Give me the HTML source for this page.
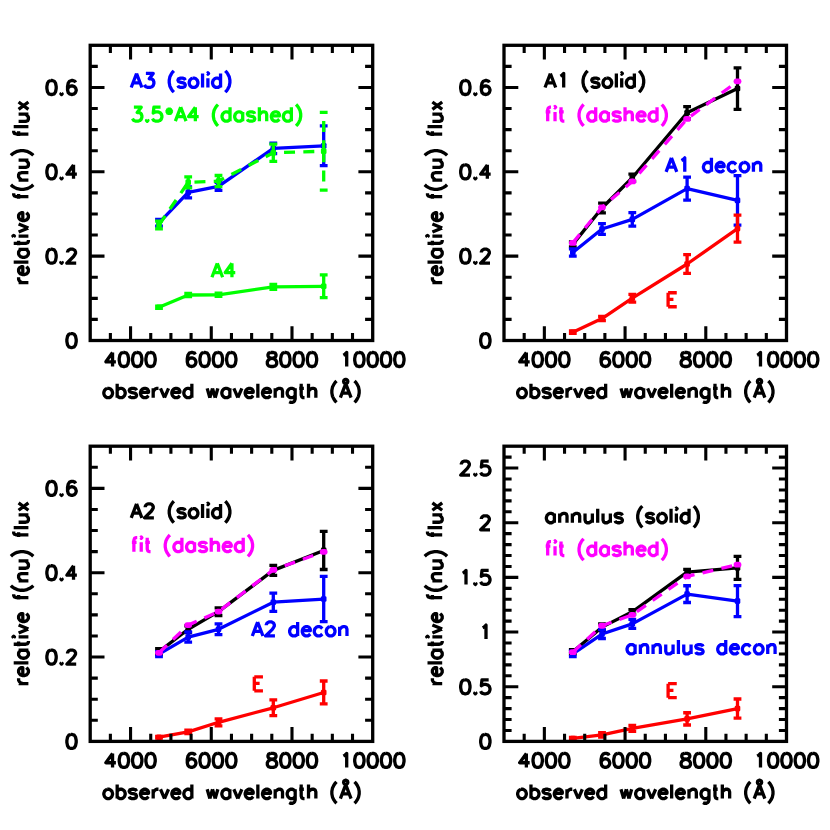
<!DOCTYPE html>
<html><head><meta charset="utf-8"><title>relative f(nu) flux vs observed wavelength</title>
<style>html,body{margin:0;padding:0;background:#fff;font-family:"Liberation Sans",sans-serif}svg{display:block}</style>
</head><body>
<svg width="830" height="830" viewBox="0 0 830 830">
<desc>Four panels of relative f(nu) flux versus observed wavelength (Å), 3000-10000. Panel 1: A3 (solid), 3.5*A4 (dashed), A4. Panel 2: A1 (solid), fit (dashed), A1 decon, E. Panel 3: A2 (solid), fit (dashed), A2 decon, E. Panel 4: annulus (solid), fit (dashed), annulus decon, E.</desc>
<rect width="830" height="830" fill="#fff"/>
<g stroke="#0000ff" stroke-width="3.3" fill="none" stroke-linecap="butt" stroke-linejoin="round"><path d="M159 222.84 L188.2 192.48 L218.5 186.28 L273.3 148.41 L323.7 145.79"/><path d="M159 222.84 V219.47 M159 222.84 V226.22"/><path d="M155.1 219.47H162.9 M155.1 226.22H162.9"/><path d="M188.2 192.48 V187 M188.2 192.48 V197.96"/><path d="M184.3 187H192.1 M184.3 197.96H192.1"/><path d="M218.5 186.28 V182.27 M218.5 186.28 V190.29"/><path d="M214.6 182.27H222.4 M214.6 190.29H222.4"/><path d="M273.3 148.41 V143.14 M273.3 148.41 V153.68"/><path d="M269.4 143.14H277.2 M269.4 153.68H277.2"/><path d="M323.7 145.79 V125.97 M323.7 145.79 V165.62"/><path d="M319.8 125.97H327.6 M319.8 165.62H327.6"/><rect x="156.2" y="220.04" width="5.6" height="5.6" rx="1.3" fill="#0000ff" stroke="none"/><rect x="185.4" y="189.68" width="5.6" height="5.6" rx="1.3" fill="#0000ff" stroke="none"/><rect x="215.7" y="183.48" width="5.6" height="5.6" rx="1.3" fill="#0000ff" stroke="none"/><rect x="270.5" y="145.61" width="5.6" height="5.6" rx="1.3" fill="#0000ff" stroke="none"/><rect x="320.9" y="142.99" width="5.6" height="5.6" rx="1.3" fill="#0000ff" stroke="none"/></g>
<g stroke="#00ff00" stroke-width="3.3" fill="none" stroke-linecap="butt" stroke-linejoin="round"><path d="M159 224.95 L188.2 182.36 L218.5 181.09 L273.3 152.75 L323.7 151.23" stroke-dasharray="11 8.3"/><path d="M159 224.95 V221.03 M159 224.95 V228.87" stroke-dasharray="11 8.3"/><path d="M155.1 221.03H162.9 M155.1 228.87H162.9"/><path d="M188.2 182.36 V176.87 M188.2 182.36 V187.84" stroke-dasharray="11 8.3"/><path d="M184.3 176.87H192.1 M184.3 187.84H192.1"/><path d="M218.5 181.09 V175.48 M218.5 181.09 V186.7" stroke-dasharray="11 8.3"/><path d="M214.6 175.48H222.4 M214.6 186.7H222.4"/><path d="M273.3 152.75 V144.11 M273.3 152.75 V161.4" stroke-dasharray="11 8.3"/><path d="M269.4 144.11H277.2 M269.4 161.4H277.2"/><path d="M323.7 151.23 V112.35 M323.7 151.23 V190.12" stroke-dasharray="11 8.3"/><path d="M319.8 112.35H327.6 M319.8 190.12H327.6"/><rect x="156.2" y="222.15" width="5.6" height="5.6" rx="1.3" fill="#00ff00" stroke="none"/><rect x="185.4" y="179.56" width="5.6" height="5.6" rx="1.3" fill="#00ff00" stroke="none"/><rect x="215.7" y="178.29" width="5.6" height="5.6" rx="1.3" fill="#00ff00" stroke="none"/><rect x="270.5" y="149.95" width="5.6" height="5.6" rx="1.3" fill="#00ff00" stroke="none"/><rect x="320.9" y="148.43" width="5.6" height="5.6" rx="1.3" fill="#00ff00" stroke="none"/></g>
<g stroke="#00ff00" stroke-width="3.3" fill="none" stroke-linecap="butt" stroke-linejoin="round"><path d="M159 307.31 L188.2 295 L218.5 294.79 L273.3 286.86 L323.7 286.31"/><path d="M159 307.31 V306.21 M159 307.31 V308.41"/><path d="M155.1 306.21H162.9 M155.1 308.41H162.9"/><path d="M188.2 295 V293.44 M188.2 295 V296.56"/><path d="M184.3 293.44H192.1 M184.3 296.56H192.1"/><path d="M218.5 294.79 V293.18 M218.5 294.79 V296.39"/><path d="M214.6 293.18H222.4 M214.6 296.39H222.4"/><path d="M273.3 286.86 V284.29 M273.3 286.86 V289.43"/><path d="M269.4 284.29H277.2 M269.4 289.43H277.2"/><path d="M323.7 286.31 V274.92 M323.7 286.31 V297.7"/><path d="M319.8 274.92H327.6 M319.8 297.7H327.6"/><rect x="156.2" y="304.51" width="5.6" height="5.6" rx="1.3" fill="#00ff00" stroke="none"/><rect x="185.4" y="292.2" width="5.6" height="5.6" rx="1.3" fill="#00ff00" stroke="none"/><rect x="215.7" y="291.99" width="5.6" height="5.6" rx="1.3" fill="#00ff00" stroke="none"/><rect x="270.5" y="284.06" width="5.6" height="5.6" rx="1.3" fill="#00ff00" stroke="none"/><rect x="320.9" y="283.51" width="5.6" height="5.6" rx="1.3" fill="#00ff00" stroke="none"/></g>
<path d="M110.38 340.5v-7.6 M110.38 45.3v7.6 M130.56 340.5v-14.3 M130.56 45.3v14.3 M150.74 340.5v-7.6 M150.74 45.3v7.6 M170.91 340.5v-7.6 M170.91 45.3v7.6 M191.09 340.5v-7.6 M191.09 45.3v7.6 M211.27 340.5v-14.3 M211.27 45.3v14.3 M231.45 340.5v-7.6 M231.45 45.3v7.6 M251.63 340.5v-7.6 M251.63 45.3v7.6 M271.81 340.5v-7.6 M271.81 45.3v7.6 M291.99 340.5v-14.3 M291.99 45.3v14.3 M312.16 340.5v-7.6 M312.16 45.3v7.6 M332.34 340.5v-7.6 M332.34 45.3v7.6 M352.52 340.5v-7.6 M352.52 45.3v7.6 M90.2 319.41h7.6 M372.7 319.41h-7.6 M90.2 298.33h7.6 M372.7 298.33h-7.6 M90.2 277.24h7.6 M372.7 277.24h-7.6 M90.2 256.16h14.3 M372.7 256.16h-14.3 M90.2 235.07h7.6 M372.7 235.07h-7.6 M90.2 213.99h7.6 M372.7 213.99h-7.6 M90.2 192.9h7.6 M372.7 192.9h-7.6 M90.2 171.81h14.3 M372.7 171.81h-14.3 M90.2 150.73h7.6 M372.7 150.73h-7.6 M90.2 129.64h7.6 M372.7 129.64h-7.6 M90.2 108.56h7.6 M372.7 108.56h-7.6 M90.2 87.47h14.3 M372.7 87.47h-14.3 M90.2 66.39h7.6 M372.7 66.39h-7.6" stroke="#000" stroke-width="3.1" fill="none"/>
<rect x="90.2" y="45.3" width="282.5" height="295.2" fill="none" stroke="#000" stroke-width="3.3"/>
<g fill="none" stroke-width="3.3" stroke-linecap="butt" stroke-linejoin="round"><path transform="translate(130.56 366.5)" d="M-18 -14 L-24.67 -4.67 L-14.67 -4.67 M-18 -14 L-18 0 M-7.33 -14 L-9.33 -13.33 L-10.67 -11.33 L-11.33 -8 L-11.33 -6 L-10.67 -2.67 L-9.33 -0.67 L-7.33 0 L-6 0 L-4 -0.67 L-2.67 -2.67 L-2 -6 L-2 -8 L-2.67 -11.33 L-4 -13.33 L-6 -14 L-7.33 -14 M6 -14 L4 -13.33 L2.67 -11.33 L2 -8 L2 -6 L2.67 -2.67 L4 -0.67 L6 0 L7.33 0 L9.33 -0.67 L10.67 -2.67 L11.33 -6 L11.33 -8 L10.67 -11.33 L9.33 -13.33 L7.33 -14 L6 -14 M19.33 -14 L17.33 -13.33 L16 -11.33 L15.33 -8 L15.33 -6 L16 -2.67 L17.33 -0.67 L19.33 0 L20.67 0 L22.67 -0.67 L24 -2.67 L24.67 -6 L24.67 -8 L24 -11.33 L22.67 -13.33 L20.67 -14 L19.33 -14" stroke="#000"/><path transform="translate(211.27 366.5)" d="M-16 -12 L-16.67 -13.33 L-18.67 -14 L-20 -14 L-22 -13.33 L-23.33 -11.33 L-24 -8 L-24 -4.67 L-23.33 -2 L-22 -0.67 L-20 0 L-19.33 0 L-17.33 -0.67 L-16 -2 L-15.33 -4 L-15.33 -4.67 L-16 -6.67 L-17.33 -8 L-19.33 -8.67 L-20 -8.67 L-22 -8 L-23.33 -6.67 L-24 -4.67 M-7.33 -14 L-9.33 -13.33 L-10.67 -11.33 L-11.33 -8 L-11.33 -6 L-10.67 -2.67 L-9.33 -0.67 L-7.33 0 L-6 0 L-4 -0.67 L-2.67 -2.67 L-2 -6 L-2 -8 L-2.67 -11.33 L-4 -13.33 L-6 -14 L-7.33 -14 M6 -14 L4 -13.33 L2.67 -11.33 L2 -8 L2 -6 L2.67 -2.67 L4 -0.67 L6 0 L7.33 0 L9.33 -0.67 L10.67 -2.67 L11.33 -6 L11.33 -8 L10.67 -11.33 L9.33 -13.33 L7.33 -14 L6 -14 M19.33 -14 L17.33 -13.33 L16 -11.33 L15.33 -8 L15.33 -6 L16 -2.67 L17.33 -0.67 L19.33 0 L20.67 0 L22.67 -0.67 L24 -2.67 L24.67 -6 L24.67 -8 L24 -11.33 L22.67 -13.33 L20.67 -14 L19.33 -14" stroke="#000"/><path transform="translate(291.99 366.5)" d="M-21.33 -14 L-23.33 -13.33 L-24 -12 L-24 -10.67 L-23.33 -9.33 L-22 -8.67 L-19.33 -8 L-17.33 -7.33 L-16 -6 L-15.33 -4.67 L-15.33 -2.67 L-16 -1.33 L-16.67 -0.67 L-18.67 0 L-21.33 0 L-23.33 -0.67 L-24 -1.33 L-24.67 -2.67 L-24.67 -4.67 L-24 -6 L-22.67 -7.33 L-20.67 -8 L-18 -8.67 L-16.67 -9.33 L-16 -10.67 L-16 -12 L-16.67 -13.33 L-18.67 -14 L-21.33 -14 M-7.33 -14 L-9.33 -13.33 L-10.67 -11.33 L-11.33 -8 L-11.33 -6 L-10.67 -2.67 L-9.33 -0.67 L-7.33 0 L-6 0 L-4 -0.67 L-2.67 -2.67 L-2 -6 L-2 -8 L-2.67 -11.33 L-4 -13.33 L-6 -14 L-7.33 -14 M6 -14 L4 -13.33 L2.67 -11.33 L2 -8 L2 -6 L2.67 -2.67 L4 -0.67 L6 0 L7.33 0 L9.33 -0.67 L10.67 -2.67 L11.33 -6 L11.33 -8 L10.67 -11.33 L9.33 -13.33 L7.33 -14 L6 -14 M19.33 -14 L17.33 -13.33 L16 -11.33 L15.33 -8 L15.33 -6 L16 -2.67 L17.33 -0.67 L19.33 0 L20.67 0 L22.67 -0.67 L24 -2.67 L24.67 -6 L24.67 -8 L24 -11.33 L22.67 -13.33 L20.67 -14 L19.33 -14" stroke="#000"/><path transform="translate(372.7 366.5)" d="M-29.33 -11.33 L-28 -12 L-26 -14 L-26 0 M-14 -14 L-16 -13.33 L-17.33 -11.33 L-18 -8 L-18 -6 L-17.33 -2.67 L-16 -0.67 L-14 0 L-12.67 0 L-10.67 -0.67 L-9.33 -2.67 L-8.67 -6 L-8.67 -8 L-9.33 -11.33 L-10.67 -13.33 L-12.67 -14 L-14 -14 M-0.67 -14 L-2.67 -13.33 L-4 -11.33 L-4.67 -8 L-4.67 -6 L-4 -2.67 L-2.67 -0.67 L-0.67 0 L0.67 0 L2.67 -0.67 L4 -2.67 L4.67 -6 L4.67 -8 L4 -11.33 L2.67 -13.33 L0.67 -14 L-0.67 -14 M12.67 -14 L10.67 -13.33 L9.33 -11.33 L8.67 -8 L8.67 -6 L9.33 -2.67 L10.67 -0.67 L12.67 0 L14 0 L16 -0.67 L17.33 -2.67 L18 -6 L18 -8 L17.33 -11.33 L16 -13.33 L14 -14 L12.67 -14 M26 -14 L24 -13.33 L22.67 -11.33 L22 -8 L22 -6 L22.67 -2.67 L24 -0.67 L26 0 L27.33 0 L29.33 -0.67 L30.67 -2.67 L31.33 -6 L31.33 -8 L30.67 -11.33 L29.33 -13.33 L27.33 -14 L26 -14" stroke="#000"/><path transform="translate(78.2 347.55)" d="M-7.33 -14 L-9.33 -13.33 L-10.67 -11.33 L-11.33 -8 L-11.33 -6 L-10.67 -2.67 L-9.33 -0.67 L-7.33 0 L-6 0 L-4 -0.67 L-2.67 -2.67 L-2 -6 L-2 -8 L-2.67 -11.33 L-4 -13.33 L-6 -14 L-7.33 -14" stroke="#000"/><path transform="translate(78.2 263.21)" d="M-27.33 -14 L-29.33 -13.33 L-30.67 -11.33 L-31.33 -8 L-31.33 -6 L-30.67 -2.67 L-29.33 -0.67 L-27.33 0 L-26 0 L-24 -0.67 L-22.67 -2.67 L-22 -6 L-22 -8 L-22.67 -11.33 L-24 -13.33 L-26 -14 L-27.33 -14 M-16.67 -1.33 L-17.33 -0.67 L-16.67 0 L-16 -0.67 L-16.67 -1.33 M-10.67 -10.67 L-10.67 -11.33 L-10 -12.67 L-9.33 -13.33 L-8 -14 L-5.33 -14 L-4 -13.33 L-3.33 -12.67 L-2.67 -11.33 L-2.67 -10 L-3.33 -8.67 L-4.67 -6.67 L-11.33 0 L-2 0" stroke="#000"/><path transform="translate(78.2 178.86)" d="M-27.33 -14 L-29.33 -13.33 L-30.67 -11.33 L-31.33 -8 L-31.33 -6 L-30.67 -2.67 L-29.33 -0.67 L-27.33 0 L-26 0 L-24 -0.67 L-22.67 -2.67 L-22 -6 L-22 -8 L-22.67 -11.33 L-24 -13.33 L-26 -14 L-27.33 -14 M-16.67 -1.33 L-17.33 -0.67 L-16.67 0 L-16 -0.67 L-16.67 -1.33 M-4.67 -14 L-11.33 -4.67 L-1.33 -4.67 M-4.67 -14 L-4.67 0" stroke="#000"/><path transform="translate(78.2 94.52)" d="M-27.33 -14 L-29.33 -13.33 L-30.67 -11.33 L-31.33 -8 L-31.33 -6 L-30.67 -2.67 L-29.33 -0.67 L-27.33 0 L-26 0 L-24 -0.67 L-22.67 -2.67 L-22 -6 L-22 -8 L-22.67 -11.33 L-24 -13.33 L-26 -14 L-27.33 -14 M-16.67 -1.33 L-17.33 -0.67 L-16.67 0 L-16 -0.67 L-16.67 -1.33 M-2.67 -12 L-3.33 -13.33 L-5.33 -14 L-6.67 -14 L-8.67 -13.33 L-10 -11.33 L-10.67 -8 L-10.67 -4.67 L-10 -2 L-8.67 -0.67 L-6.67 0 L-6 0 L-4 -0.67 L-2.67 -2 L-2 -4 L-2 -4.67 L-2.67 -6.67 L-4 -8 L-6 -8.67 L-6.67 -8.67 L-8.67 -8 L-10 -6.67 L-10.67 -4.67" stroke="#000"/><path transform="translate(231.85 397.7)" d="M-124.67 -9.33 L-126.01 -8.67 L-127.34 -7.33 L-128.01 -5.33 L-128.01 -4 L-127.34 -2 L-126.01 -0.67 L-124.67 0 L-122.67 0 L-121.34 -0.67 L-120.01 -2 L-119.34 -4 L-119.34 -5.33 L-120.01 -7.33 L-121.34 -8.67 L-122.67 -9.33 L-124.67 -9.33 M-114.67 -14 L-114.67 0 M-114.67 -7.33 L-113.34 -8.67 L-112.01 -9.33 L-110.01 -9.33 L-108.67 -8.67 L-107.34 -7.33 L-106.67 -5.33 L-106.67 -4 L-107.34 -2 L-108.67 -0.67 L-110.01 0 L-112.01 0 L-113.34 -0.67 L-114.67 -2 M-95.34 -7.33 L-96 -8.67 L-98 -9.33 L-100 -9.33 L-102.01 -8.67 L-102.67 -7.33 L-102.01 -6 L-100.67 -5.33 L-97.34 -4.67 L-96 -4 L-95.34 -2.67 L-95.34 -2 L-96 -0.67 L-98 0 L-100 0 L-102.01 -0.67 L-102.67 -2 M-91.34 -5.33 L-83.34 -5.33 L-83.34 -6.67 L-84 -8 L-84.67 -8.67 L-86 -9.33 L-88 -9.33 L-89.34 -8.67 L-90.67 -7.33 L-91.34 -5.33 L-91.34 -4 L-90.67 -2 L-89.34 -0.67 L-88 0 L-86 0 L-84.67 -0.67 L-83.34 -2 M-78.67 -9.33 L-78.67 0 M-78.67 -5.33 L-78 -7.33 L-76.67 -8.67 L-75.34 -9.33 L-73.34 -9.33 M-71.34 -9.33 L-67.34 0 M-63.34 -9.33 L-67.34 0 M-60 -5.33 L-52 -5.33 L-52 -6.67 L-52.67 -8 L-53.34 -8.67 L-54.67 -9.33 L-56.67 -9.33 L-58 -8.67 L-59.34 -7.33 L-60 -5.33 L-60 -4 L-59.34 -2 L-58 -0.67 L-56.67 0 L-54.67 0 L-53.34 -0.67 L-52 -2 M-40 -14 L-40 0 M-40 -7.33 L-41.34 -8.67 L-42.67 -9.33 L-44.67 -9.33 L-46 -8.67 L-47.34 -7.33 L-48 -5.33 L-48 -4 L-47.34 -2 L-46 -0.67 L-44.67 0 L-42.67 0 L-41.34 -0.67 L-40 -2 M-24.67 -9.33 L-22 0 M-19.33 -9.33 L-22 0 M-19.33 -9.33 L-16.67 0 M-14 -9.33 L-16.67 0 M-2 -9.33 L-2 0 M-2 -7.33 L-3.33 -8.67 L-4.67 -9.33 L-6.67 -9.33 L-8 -8.67 L-9.33 -7.33 L-10 -5.33 L-10 -4 L-9.33 -2 L-8 -0.67 L-6.67 0 L-4.67 0 L-3.33 -0.67 L-2 -2 M2 -9.33 L6 0 M10 -9.33 L6 0 M13.33 -5.33 L21.33 -5.33 L21.33 -6.67 L20.67 -8 L20 -8.67 L18.67 -9.33 L16.67 -9.33 L15.33 -8.67 L14 -7.33 L13.33 -5.33 L13.33 -4 L14 -2 L15.33 -0.67 L16.67 0 L18.67 0 L20 -0.67 L21.33 -2 M26 -14 L26 0 M30.67 -5.33 L38.67 -5.33 L38.67 -6.67 L38 -8 L37.34 -8.67 L36 -9.33 L34 -9.33 L32.67 -8.67 L31.33 -7.33 L30.67 -5.33 L30.67 -4 L31.33 -2 L32.67 -0.67 L34 0 L36 0 L37.34 -0.67 L38.67 -2 M43.34 -9.33 L43.34 0 M43.34 -6.67 L45.34 -8.67 L46.67 -9.33 L48.67 -9.33 L50 -8.67 L50.67 -6.67 L50.67 0 M63.34 -9.33 L63.34 1.33 L62.67 3.33 L62 4 L60.67 4.67 L58.67 4.67 L57.34 4 M63.34 -7.33 L62 -8.67 L60.67 -9.33 L58.67 -9.33 L57.34 -8.67 L56 -7.33 L55.34 -5.33 L55.34 -4 L56 -2 L57.34 -0.67 L58.67 0 L60.67 0 L62 -0.67 L63.34 -2 M69.34 -14 L69.34 -2.67 L70 -0.67 L71.34 0 L72.67 0 M67.34 -9.33 L72 -9.33 M76.67 -14 L76.67 0 M76.67 -6.67 L78.67 -8.67 L80 -9.33 L82 -9.33 L83.34 -8.67 L84 -6.67 L84 0 M104.67 -16.67 L103.34 -15.33 L102.01 -13.33 L100.67 -10.67 L100 -7.33 L100 -4.67 L100.67 -1.33 L102.01 1.33 L103.34 3.33 L104.67 4.67 M113.87 -14 L108.54 0 M113.87 -14 L119.21 0 M110.54 -4.67 L117.21 -4.67 M113.87 -14.13 L112.81 -14.42 L112.02 -15.2 L111.74 -16.27 L112.02 -17.33 L112.81 -18.12 L113.87 -18.4 L114.94 -18.12 L115.72 -17.33 L116.01 -16.27 L115.72 -15.2 L114.94 -14.42 L113.87 -14.13 M122.67 -16.67 L124.01 -15.33 L125.34 -13.33 L126.67 -10.67 L127.34 -7.33 L127.34 -4.67 L126.67 -1.33 L125.34 1.33 L124.01 3.33 L122.67 4.67" stroke="#000"/><path transform="translate(28.4 192.7) rotate(-90)" d="M-90 -9.8 L-90 0 M-90 -5.6 L-89.34 -7.7 L-88 -9.1 L-86.67 -9.8 L-84.67 -9.8 M-82 -5.6 L-74 -5.6 L-74 -7 L-74.67 -8.4 L-75.34 -9.1 L-76.67 -9.8 L-78.67 -9.8 L-80 -9.1 L-81.34 -7.7 L-82 -5.6 L-82 -4.2 L-81.34 -2.1 L-80 -0.7 L-78.67 0 L-76.67 0 L-75.34 -0.7 L-74 -2.1 M-69.34 -14.7 L-69.34 0 M-56.67 -9.8 L-56.67 0 M-56.67 -7.7 L-58 -9.1 L-59.34 -9.8 L-61.34 -9.8 L-62.67 -9.1 L-64 -7.7 L-64.67 -5.6 L-64.67 -4.2 L-64 -2.1 L-62.67 -0.7 L-61.34 0 L-59.34 0 L-58 -0.7 L-56.67 -2.1 M-50.67 -14.7 L-50.67 -2.8 L-50 -0.7 L-48.67 0 L-47.34 0 M-52.67 -9.8 L-48 -9.8 M-44 -14.7 L-43.34 -14 L-42.67 -14.7 L-43.34 -15.4 L-44 -14.7 M-43.34 -9.8 L-43.34 0 M-39.34 -9.8 L-35.34 0 M-31.33 -9.8 L-35.34 0 M-28 -5.6 L-20 -5.6 L-20 -7 L-20.67 -8.4 L-21.33 -9.1 L-22.67 -9.8 L-24.67 -9.8 L-26 -9.1 L-27.33 -7.7 L-28 -5.6 L-28 -4.2 L-27.33 -2.1 L-26 -0.7 L-24.67 0 L-22.67 0 L-21.33 -0.7 L-20 -2.1 M-0.67 -14.7 L-2 -14.7 L-3.33 -14 L-4 -11.9 L-4 0 M-6 -9.8 L-1.33 -9.8 M8 -17.5 L6.67 -16.1 L5.33 -14 L4 -11.2 L3.33 -7.7 L3.33 -4.9 L4 -1.4 L5.33 1.4 L6.67 3.5 L8 4.9 M12.67 -9.8 L12.67 0 M12.67 -7 L14.67 -9.1 L16 -9.8 L18 -9.8 L19.33 -9.1 L20 -7 L20 0 M25.33 -9.8 L25.33 -2.8 L26 -0.7 L27.33 0 L29.33 0 L30.67 -0.7 L32.67 -2.8 M32.67 -9.8 L32.67 0 M37.34 -17.5 L38.67 -16.1 L40 -14 L41.34 -11.2 L42 -7.7 L42 -4.9 L41.34 -1.4 L40 1.4 L38.67 3.5 L37.34 4.9 M62 -14.7 L60.67 -14.7 L59.34 -14 L58.67 -11.9 L58.67 0 M56.67 -9.8 L61.34 -9.8 M66 -14.7 L66 0 M71.34 -9.8 L71.34 -2.8 L72 -0.7 L73.34 0 L75.34 0 L76.67 -0.7 L78.67 -2.8 M78.67 -9.8 L78.67 0 M83.34 -9.8 L90.67 0 M90.67 -9.8 L83.34 0" stroke="#000"/><path transform="translate(130.56 87.47)" d="M6 -14 L0.67 0 M6 -14 L11.33 0 M2.67 -4.67 L9.33 -4.67 M15.33 -14 L22.67 -14 L18.67 -8.67 L20.67 -8.67 L22 -8 L22.67 -7.33 L23.33 -5.33 L23.33 -4 L22.67 -2 L21.33 -0.67 L19.33 0 L17.33 0 L15.33 -0.67 L14.67 -1.33 L14 -2.67 M43.34 -16.67 L42 -15.33 L40.67 -13.33 L39.34 -10.67 L38.67 -7.33 L38.67 -4.67 L39.34 -1.33 L40.67 1.33 L42 3.33 L43.34 4.67 M54.67 -7.33 L54 -8.67 L52 -9.33 L50 -9.33 L48 -8.67 L47.34 -7.33 L48 -6 L49.34 -5.33 L52.67 -4.67 L54 -4 L54.67 -2.67 L54.67 -2 L54 -0.67 L52 0 L50 0 L48 -0.67 L47.34 -2 M62 -9.33 L60.67 -8.67 L59.34 -7.33 L58.67 -5.33 L58.67 -4 L59.34 -2 L60.67 -0.67 L62 0 L64 0 L65.34 -0.67 L66.67 -2 L67.34 -4 L67.34 -5.33 L66.67 -7.33 L65.34 -8.67 L64 -9.33 L62 -9.33 M72 -14 L72 0 M76.67 -14 L77.34 -13.33 L78 -14 L77.34 -14.67 L76.67 -14 M77.34 -9.33 L77.34 0 M90 -14 L90 0 M90 -7.33 L88.67 -8.67 L87.34 -9.33 L85.34 -9.33 L84 -8.67 L82.67 -7.33 L82 -5.33 L82 -4 L82.67 -2 L84 -0.67 L85.34 0 L87.34 0 L88.67 -0.67 L90 -2 M94.67 -16.67 L96 -15.33 L97.34 -13.33 L98.67 -10.67 L99.34 -7.33 L99.34 -4.67 L98.67 -1.33 L97.34 1.33 L96 3.33 L94.67 4.67" stroke="#0000ff"/><path transform="translate(130.56 121.21)" d="M3.33 -14 L10.67 -14 L6.67 -8.67 L8.67 -8.67 L10 -8 L10.67 -7.33 L11.33 -5.33 L11.33 -4 L10.67 -2 L9.33 -0.67 L7.33 0 L5.33 0 L3.33 -0.67 L2.67 -1.33 L2 -2.67 M16.67 -1.33 L16 -0.67 L16.67 0 L17.33 -0.67 L16.67 -1.33 M30 -14 L23.33 -14 L22.67 -8 L23.33 -8.67 L25.33 -9.33 L27.33 -9.33 L29.33 -8.67 L30.67 -7.33 L31.33 -5.33 L31.33 -4 L30.67 -2 L29.33 -0.67 L27.33 0 L25.33 0 L23.33 -0.67 L22.67 -1.33 L22 -2.67 M38.67 -13.6 L38.67 -6.13 M41.9 -11.73 L35.44 -8 M35.44 -11.73 L41.9 -8 M50.14 -14 L44.8 0 M50.14 -14 L55.47 0 M46.8 -4.67 L53.47 -4.67 M64.8 -14 L58.14 -4.67 L68.14 -4.67 M64.8 -14 L64.8 0 M87.47 -16.67 L86.14 -15.33 L84.8 -13.33 L83.47 -10.67 L82.8 -7.33 L82.8 -4.67 L83.47 -1.33 L84.8 1.33 L86.14 3.33 L87.47 4.67 M99.47 -14 L99.47 0 M99.47 -7.33 L98.14 -8.67 L96.8 -9.33 L94.8 -9.33 L93.47 -8.67 L92.14 -7.33 L91.47 -5.33 L91.47 -4 L92.14 -2 L93.47 -0.67 L94.8 0 L96.8 0 L98.14 -0.67 L99.47 -2 M112.14 -9.33 L112.14 0 M112.14 -7.33 L110.81 -8.67 L109.47 -9.33 L107.47 -9.33 L106.14 -8.67 L104.81 -7.33 L104.14 -5.33 L104.14 -4 L104.81 -2 L106.14 -0.67 L107.47 0 L109.47 0 L110.81 -0.67 L112.14 -2 M124.14 -7.33 L123.47 -8.67 L121.47 -9.33 L119.47 -9.33 L117.47 -8.67 L116.81 -7.33 L117.47 -6 L118.81 -5.33 L122.14 -4.67 L123.47 -4 L124.14 -2.67 L124.14 -2 L123.47 -0.67 L121.47 0 L119.47 0 L117.47 -0.67 L116.81 -2 M128.81 -14 L128.81 0 M128.81 -6.67 L130.81 -8.67 L132.14 -9.33 L134.14 -9.33 L135.47 -8.67 L136.14 -6.67 L136.14 0 M140.81 -5.33 L148.81 -5.33 L148.81 -6.67 L148.14 -8 L147.47 -8.67 L146.14 -9.33 L144.14 -9.33 L142.81 -8.67 L141.47 -7.33 L140.81 -5.33 L140.81 -4 L141.47 -2 L142.81 -0.67 L144.14 0 L146.14 0 L147.47 -0.67 L148.81 -2 M160.81 -14 L160.81 0 M160.81 -7.33 L159.47 -8.67 L158.14 -9.33 L156.14 -9.33 L154.81 -8.67 L153.47 -7.33 L152.81 -5.33 L152.81 -4 L153.47 -2 L154.81 -0.67 L156.14 0 L158.14 0 L159.47 -0.67 L160.81 -2 M165.47 -16.67 L166.81 -15.33 L168.14 -13.33 L169.48 -10.67 L170.14 -7.33 L170.14 -4.67 L169.48 -1.33 L168.14 1.33 L166.81 3.33 L165.47 4.67" stroke="#00ff00"/><path transform="translate(211.27 277.24)" d="M6 -14 L0.67 0 M6 -14 L11.33 0 M2.67 -4.67 L9.33 -4.67 M20.67 -14 L14 -4.67 L24 -4.67 M20.67 -14 L20.67 0" stroke="#00ff00"/></g>
<g stroke="#000000" stroke-width="3.3" fill="none" stroke-linecap="butt" stroke-linejoin="round"><path d="M572.8 244.35 L602 208 L632.3 177.72 L687.1 112.69 L737.5 88.57"/><path d="M572.8 244.35 V241.82 M572.8 244.35 V246.88"/><path d="M568.9 241.82H576.7 M568.9 246.88H576.7"/><path d="M602 208 V203.15 M602 208 V212.85"/><path d="M598.1 203.15H605.9 M598.1 212.85H605.9"/><path d="M632.3 177.72 V174.13 M632.3 177.72 V181.3"/><path d="M628.4 174.13H636.2 M628.4 181.3H636.2"/><path d="M687.1 112.69 V106.58 M687.1 112.69 V118.8"/><path d="M683.2 106.58H691 M683.2 118.8H691"/><path d="M737.5 88.57 V67.78 M737.5 88.57 V109.36"/><path d="M733.6 67.78H741.4 M733.6 109.36H741.4"/><rect x="570" y="241.55" width="5.6" height="5.6" rx="1.3" fill="#000000" stroke="none"/><rect x="599.2" y="205.2" width="5.6" height="5.6" rx="1.3" fill="#000000" stroke="none"/><rect x="629.5" y="174.92" width="5.6" height="5.6" rx="1.3" fill="#000000" stroke="none"/><rect x="684.3" y="109.89" width="5.6" height="5.6" rx="1.3" fill="#000000" stroke="none"/><rect x="734.7" y="85.77" width="5.6" height="5.6" rx="1.3" fill="#000000" stroke="none"/></g>
<g stroke="#0000ff" stroke-width="3.3" fill="none" stroke-linecap="butt" stroke-linejoin="round"><path d="M572.8 252.49 L602 229 L632.3 219.38 L687.1 188.6 L737.5 200.41"/><path d="M572.8 252.49 V248.9 M572.8 252.49 V256.07"/><path d="M568.9 248.9H576.7 M568.9 256.07H576.7"/><path d="M602 229 V223.56 M602 229 V234.44"/><path d="M598.1 223.56H605.9 M598.1 234.44H605.9"/><path d="M632.3 219.38 V212.59 M632.3 219.38 V226.17"/><path d="M628.4 212.59H636.2 M628.4 226.17H636.2"/><path d="M687.1 188.6 V177.09 M687.1 188.6 V200.11"/><path d="M683.2 177.09H691 M683.2 200.11H691"/><path d="M737.5 200.41 V175.69 M737.5 200.41 V225.12"/><path d="M733.6 175.69H741.4 M733.6 225.12H741.4"/><rect x="570" y="249.69" width="5.6" height="5.6" rx="1.3" fill="#0000ff" stroke="none"/><rect x="599.2" y="226.2" width="5.6" height="5.6" rx="1.3" fill="#0000ff" stroke="none"/><rect x="629.5" y="216.58" width="5.6" height="5.6" rx="1.3" fill="#0000ff" stroke="none"/><rect x="684.3" y="185.8" width="5.6" height="5.6" rx="1.3" fill="#0000ff" stroke="none"/><rect x="734.7" y="197.61" width="5.6" height="5.6" rx="1.3" fill="#0000ff" stroke="none"/></g>
<g stroke="#ff0000" stroke-width="3.3" fill="none" stroke-linecap="butt" stroke-linejoin="round"><path d="M572.8 332.19 L602 318.61 L632.3 298.2 L687.1 264 L737.5 228.62"/><path d="M572.8 332.19 V330.93 M572.8 332.19 V333.46"/><path d="M568.9 330.93H576.7 M568.9 333.46H576.7"/><path d="M602 318.61 V316.5 M602 318.61 V320.72"/><path d="M598.1 316.5H605.9 M598.1 320.72H605.9"/><path d="M632.3 298.2 V294.32 M632.3 298.2 V302.08"/><path d="M628.4 294.32H636.2 M628.4 302.08H636.2"/><path d="M687.1 264 V254.72 M687.1 264 V273.28"/><path d="M683.2 254.72H691 M683.2 273.28H691"/><path d="M737.5 228.62 V215.04 M737.5 228.62 V242.2"/><path d="M733.6 215.04H741.4 M733.6 242.2H741.4"/><rect x="570" y="329.39" width="5.6" height="5.6" rx="1.3" fill="#ff0000" stroke="none"/><rect x="599.2" y="315.81" width="5.6" height="5.6" rx="1.3" fill="#ff0000" stroke="none"/><rect x="629.5" y="295.4" width="5.6" height="5.6" rx="1.3" fill="#ff0000" stroke="none"/><rect x="684.3" y="261.2" width="5.6" height="5.6" rx="1.3" fill="#ff0000" stroke="none"/><rect x="734.7" y="225.82" width="5.6" height="5.6" rx="1.3" fill="#ff0000" stroke="none"/></g>
<g stroke="#ff00ff" stroke-width="3.3" fill="none" stroke-linecap="butt" stroke-linejoin="round"><path d="M572.8 242.92 L602 207.32 L632.3 181.39 L687.1 118.89 L737.5 81.31" stroke-dasharray="11 8.3"/><rect x="568.9" y="240.02" width="7.8" height="5.8" rx="2.9" fill="#ff00ff" stroke="none"/><rect x="598.1" y="204.42" width="7.8" height="5.8" rx="2.9" fill="#ff00ff" stroke="none"/><rect x="628.4" y="178.49" width="7.8" height="5.8" rx="2.9" fill="#ff00ff" stroke="none"/><rect x="683.2" y="115.99" width="7.8" height="5.8" rx="2.9" fill="#ff00ff" stroke="none"/><rect x="733.6" y="78.41" width="7.8" height="5.8" rx="2.9" fill="#ff00ff" stroke="none"/></g>
<path d="M524.18 340.5v-7.6 M524.18 45.3v7.6 M544.36 340.5v-14.3 M544.36 45.3v14.3 M564.54 340.5v-7.6 M564.54 45.3v7.6 M584.71 340.5v-7.6 M584.71 45.3v7.6 M604.89 340.5v-7.6 M604.89 45.3v7.6 M625.07 340.5v-14.3 M625.07 45.3v14.3 M645.25 340.5v-7.6 M645.25 45.3v7.6 M665.43 340.5v-7.6 M665.43 45.3v7.6 M685.61 340.5v-7.6 M685.61 45.3v7.6 M705.79 340.5v-14.3 M705.79 45.3v14.3 M725.96 340.5v-7.6 M725.96 45.3v7.6 M746.14 340.5v-7.6 M746.14 45.3v7.6 M766.32 340.5v-7.6 M766.32 45.3v7.6 M504 319.41h7.6 M786.5 319.41h-7.6 M504 298.33h7.6 M786.5 298.33h-7.6 M504 277.24h7.6 M786.5 277.24h-7.6 M504 256.16h14.3 M786.5 256.16h-14.3 M504 235.07h7.6 M786.5 235.07h-7.6 M504 213.99h7.6 M786.5 213.99h-7.6 M504 192.9h7.6 M786.5 192.9h-7.6 M504 171.81h14.3 M786.5 171.81h-14.3 M504 150.73h7.6 M786.5 150.73h-7.6 M504 129.64h7.6 M786.5 129.64h-7.6 M504 108.56h7.6 M786.5 108.56h-7.6 M504 87.47h14.3 M786.5 87.47h-14.3 M504 66.39h7.6 M786.5 66.39h-7.6" stroke="#000" stroke-width="3.1" fill="none"/>
<rect x="504" y="45.3" width="282.5" height="295.2" fill="none" stroke="#000" stroke-width="3.3"/>
<g fill="none" stroke-width="3.3" stroke-linecap="butt" stroke-linejoin="round"><path transform="translate(544.36 366.5)" d="M-18 -14 L-24.67 -4.67 L-14.67 -4.67 M-18 -14 L-18 0 M-7.33 -14 L-9.33 -13.33 L-10.67 -11.33 L-11.33 -8 L-11.33 -6 L-10.67 -2.67 L-9.33 -0.67 L-7.33 0 L-6 0 L-4 -0.67 L-2.67 -2.67 L-2 -6 L-2 -8 L-2.67 -11.33 L-4 -13.33 L-6 -14 L-7.33 -14 M6 -14 L4 -13.33 L2.67 -11.33 L2 -8 L2 -6 L2.67 -2.67 L4 -0.67 L6 0 L7.33 0 L9.33 -0.67 L10.67 -2.67 L11.33 -6 L11.33 -8 L10.67 -11.33 L9.33 -13.33 L7.33 -14 L6 -14 M19.33 -14 L17.33 -13.33 L16 -11.33 L15.33 -8 L15.33 -6 L16 -2.67 L17.33 -0.67 L19.33 0 L20.67 0 L22.67 -0.67 L24 -2.67 L24.67 -6 L24.67 -8 L24 -11.33 L22.67 -13.33 L20.67 -14 L19.33 -14" stroke="#000"/><path transform="translate(625.07 366.5)" d="M-16 -12 L-16.67 -13.33 L-18.67 -14 L-20 -14 L-22 -13.33 L-23.33 -11.33 L-24 -8 L-24 -4.67 L-23.33 -2 L-22 -0.67 L-20 0 L-19.33 0 L-17.33 -0.67 L-16 -2 L-15.33 -4 L-15.33 -4.67 L-16 -6.67 L-17.33 -8 L-19.33 -8.67 L-20 -8.67 L-22 -8 L-23.33 -6.67 L-24 -4.67 M-7.33 -14 L-9.33 -13.33 L-10.67 -11.33 L-11.33 -8 L-11.33 -6 L-10.67 -2.67 L-9.33 -0.67 L-7.33 0 L-6 0 L-4 -0.67 L-2.67 -2.67 L-2 -6 L-2 -8 L-2.67 -11.33 L-4 -13.33 L-6 -14 L-7.33 -14 M6 -14 L4 -13.33 L2.67 -11.33 L2 -8 L2 -6 L2.67 -2.67 L4 -0.67 L6 0 L7.33 0 L9.33 -0.67 L10.67 -2.67 L11.33 -6 L11.33 -8 L10.67 -11.33 L9.33 -13.33 L7.33 -14 L6 -14 M19.33 -14 L17.33 -13.33 L16 -11.33 L15.33 -8 L15.33 -6 L16 -2.67 L17.33 -0.67 L19.33 0 L20.67 0 L22.67 -0.67 L24 -2.67 L24.67 -6 L24.67 -8 L24 -11.33 L22.67 -13.33 L20.67 -14 L19.33 -14" stroke="#000"/><path transform="translate(705.79 366.5)" d="M-21.33 -14 L-23.33 -13.33 L-24 -12 L-24 -10.67 L-23.33 -9.33 L-22 -8.67 L-19.33 -8 L-17.33 -7.33 L-16 -6 L-15.33 -4.67 L-15.33 -2.67 L-16 -1.33 L-16.67 -0.67 L-18.67 0 L-21.33 0 L-23.33 -0.67 L-24 -1.33 L-24.67 -2.67 L-24.67 -4.67 L-24 -6 L-22.67 -7.33 L-20.67 -8 L-18 -8.67 L-16.67 -9.33 L-16 -10.67 L-16 -12 L-16.67 -13.33 L-18.67 -14 L-21.33 -14 M-7.33 -14 L-9.33 -13.33 L-10.67 -11.33 L-11.33 -8 L-11.33 -6 L-10.67 -2.67 L-9.33 -0.67 L-7.33 0 L-6 0 L-4 -0.67 L-2.67 -2.67 L-2 -6 L-2 -8 L-2.67 -11.33 L-4 -13.33 L-6 -14 L-7.33 -14 M6 -14 L4 -13.33 L2.67 -11.33 L2 -8 L2 -6 L2.67 -2.67 L4 -0.67 L6 0 L7.33 0 L9.33 -0.67 L10.67 -2.67 L11.33 -6 L11.33 -8 L10.67 -11.33 L9.33 -13.33 L7.33 -14 L6 -14 M19.33 -14 L17.33 -13.33 L16 -11.33 L15.33 -8 L15.33 -6 L16 -2.67 L17.33 -0.67 L19.33 0 L20.67 0 L22.67 -0.67 L24 -2.67 L24.67 -6 L24.67 -8 L24 -11.33 L22.67 -13.33 L20.67 -14 L19.33 -14" stroke="#000"/><path transform="translate(786.5 366.5)" d="M-29.33 -11.33 L-28 -12 L-26 -14 L-26 0 M-14 -14 L-16 -13.33 L-17.33 -11.33 L-18 -8 L-18 -6 L-17.33 -2.67 L-16 -0.67 L-14 0 L-12.67 0 L-10.67 -0.67 L-9.33 -2.67 L-8.67 -6 L-8.67 -8 L-9.33 -11.33 L-10.67 -13.33 L-12.67 -14 L-14 -14 M-0.67 -14 L-2.67 -13.33 L-4 -11.33 L-4.67 -8 L-4.67 -6 L-4 -2.67 L-2.67 -0.67 L-0.67 0 L0.67 0 L2.67 -0.67 L4 -2.67 L4.67 -6 L4.67 -8 L4 -11.33 L2.67 -13.33 L0.67 -14 L-0.67 -14 M12.67 -14 L10.67 -13.33 L9.33 -11.33 L8.67 -8 L8.67 -6 L9.33 -2.67 L10.67 -0.67 L12.67 0 L14 0 L16 -0.67 L17.33 -2.67 L18 -6 L18 -8 L17.33 -11.33 L16 -13.33 L14 -14 L12.67 -14 M26 -14 L24 -13.33 L22.67 -11.33 L22 -8 L22 -6 L22.67 -2.67 L24 -0.67 L26 0 L27.33 0 L29.33 -0.67 L30.67 -2.67 L31.33 -6 L31.33 -8 L30.67 -11.33 L29.33 -13.33 L27.33 -14 L26 -14" stroke="#000"/><path transform="translate(492 347.55)" d="M-7.33 -14 L-9.33 -13.33 L-10.67 -11.33 L-11.33 -8 L-11.33 -6 L-10.67 -2.67 L-9.33 -0.67 L-7.33 0 L-6 0 L-4 -0.67 L-2.67 -2.67 L-2 -6 L-2 -8 L-2.67 -11.33 L-4 -13.33 L-6 -14 L-7.33 -14" stroke="#000"/><path transform="translate(492 263.21)" d="M-27.33 -14 L-29.33 -13.33 L-30.67 -11.33 L-31.33 -8 L-31.33 -6 L-30.67 -2.67 L-29.33 -0.67 L-27.33 0 L-26 0 L-24 -0.67 L-22.67 -2.67 L-22 -6 L-22 -8 L-22.67 -11.33 L-24 -13.33 L-26 -14 L-27.33 -14 M-16.67 -1.33 L-17.33 -0.67 L-16.67 0 L-16 -0.67 L-16.67 -1.33 M-10.67 -10.67 L-10.67 -11.33 L-10 -12.67 L-9.33 -13.33 L-8 -14 L-5.33 -14 L-4 -13.33 L-3.33 -12.67 L-2.67 -11.33 L-2.67 -10 L-3.33 -8.67 L-4.67 -6.67 L-11.33 0 L-2 0" stroke="#000"/><path transform="translate(492 178.86)" d="M-27.33 -14 L-29.33 -13.33 L-30.67 -11.33 L-31.33 -8 L-31.33 -6 L-30.67 -2.67 L-29.33 -0.67 L-27.33 0 L-26 0 L-24 -0.67 L-22.67 -2.67 L-22 -6 L-22 -8 L-22.67 -11.33 L-24 -13.33 L-26 -14 L-27.33 -14 M-16.67 -1.33 L-17.33 -0.67 L-16.67 0 L-16 -0.67 L-16.67 -1.33 M-4.67 -14 L-11.33 -4.67 L-1.33 -4.67 M-4.67 -14 L-4.67 0" stroke="#000"/><path transform="translate(492 94.52)" d="M-27.33 -14 L-29.33 -13.33 L-30.67 -11.33 L-31.33 -8 L-31.33 -6 L-30.67 -2.67 L-29.33 -0.67 L-27.33 0 L-26 0 L-24 -0.67 L-22.67 -2.67 L-22 -6 L-22 -8 L-22.67 -11.33 L-24 -13.33 L-26 -14 L-27.33 -14 M-16.67 -1.33 L-17.33 -0.67 L-16.67 0 L-16 -0.67 L-16.67 -1.33 M-2.67 -12 L-3.33 -13.33 L-5.33 -14 L-6.67 -14 L-8.67 -13.33 L-10 -11.33 L-10.67 -8 L-10.67 -4.67 L-10 -2 L-8.67 -0.67 L-6.67 0 L-6 0 L-4 -0.67 L-2.67 -2 L-2 -4 L-2 -4.67 L-2.67 -6.67 L-4 -8 L-6 -8.67 L-6.67 -8.67 L-8.67 -8 L-10 -6.67 L-10.67 -4.67" stroke="#000"/><path transform="translate(645.65 397.7)" d="M-124.67 -9.33 L-126.01 -8.67 L-127.34 -7.33 L-128.01 -5.33 L-128.01 -4 L-127.34 -2 L-126.01 -0.67 L-124.67 0 L-122.67 0 L-121.34 -0.67 L-120.01 -2 L-119.34 -4 L-119.34 -5.33 L-120.01 -7.33 L-121.34 -8.67 L-122.67 -9.33 L-124.67 -9.33 M-114.67 -14 L-114.67 0 M-114.67 -7.33 L-113.34 -8.67 L-112.01 -9.33 L-110.01 -9.33 L-108.67 -8.67 L-107.34 -7.33 L-106.67 -5.33 L-106.67 -4 L-107.34 -2 L-108.67 -0.67 L-110.01 0 L-112.01 0 L-113.34 -0.67 L-114.67 -2 M-95.34 -7.33 L-96 -8.67 L-98 -9.33 L-100 -9.33 L-102.01 -8.67 L-102.67 -7.33 L-102.01 -6 L-100.67 -5.33 L-97.34 -4.67 L-96 -4 L-95.34 -2.67 L-95.34 -2 L-96 -0.67 L-98 0 L-100 0 L-102.01 -0.67 L-102.67 -2 M-91.34 -5.33 L-83.34 -5.33 L-83.34 -6.67 L-84 -8 L-84.67 -8.67 L-86 -9.33 L-88 -9.33 L-89.34 -8.67 L-90.67 -7.33 L-91.34 -5.33 L-91.34 -4 L-90.67 -2 L-89.34 -0.67 L-88 0 L-86 0 L-84.67 -0.67 L-83.34 -2 M-78.67 -9.33 L-78.67 0 M-78.67 -5.33 L-78 -7.33 L-76.67 -8.67 L-75.34 -9.33 L-73.34 -9.33 M-71.34 -9.33 L-67.34 0 M-63.34 -9.33 L-67.34 0 M-60 -5.33 L-52 -5.33 L-52 -6.67 L-52.67 -8 L-53.34 -8.67 L-54.67 -9.33 L-56.67 -9.33 L-58 -8.67 L-59.34 -7.33 L-60 -5.33 L-60 -4 L-59.34 -2 L-58 -0.67 L-56.67 0 L-54.67 0 L-53.34 -0.67 L-52 -2 M-40 -14 L-40 0 M-40 -7.33 L-41.34 -8.67 L-42.67 -9.33 L-44.67 -9.33 L-46 -8.67 L-47.34 -7.33 L-48 -5.33 L-48 -4 L-47.34 -2 L-46 -0.67 L-44.67 0 L-42.67 0 L-41.34 -0.67 L-40 -2 M-24.67 -9.33 L-22 0 M-19.33 -9.33 L-22 0 M-19.33 -9.33 L-16.67 0 M-14 -9.33 L-16.67 0 M-2 -9.33 L-2 0 M-2 -7.33 L-3.33 -8.67 L-4.67 -9.33 L-6.67 -9.33 L-8 -8.67 L-9.33 -7.33 L-10 -5.33 L-10 -4 L-9.33 -2 L-8 -0.67 L-6.67 0 L-4.67 0 L-3.33 -0.67 L-2 -2 M2 -9.33 L6 0 M10 -9.33 L6 0 M13.33 -5.33 L21.33 -5.33 L21.33 -6.67 L20.67 -8 L20 -8.67 L18.67 -9.33 L16.67 -9.33 L15.33 -8.67 L14 -7.33 L13.33 -5.33 L13.33 -4 L14 -2 L15.33 -0.67 L16.67 0 L18.67 0 L20 -0.67 L21.33 -2 M26 -14 L26 0 M30.67 -5.33 L38.67 -5.33 L38.67 -6.67 L38 -8 L37.34 -8.67 L36 -9.33 L34 -9.33 L32.67 -8.67 L31.33 -7.33 L30.67 -5.33 L30.67 -4 L31.33 -2 L32.67 -0.67 L34 0 L36 0 L37.34 -0.67 L38.67 -2 M43.34 -9.33 L43.34 0 M43.34 -6.67 L45.34 -8.67 L46.67 -9.33 L48.67 -9.33 L50 -8.67 L50.67 -6.67 L50.67 0 M63.34 -9.33 L63.34 1.33 L62.67 3.33 L62 4 L60.67 4.67 L58.67 4.67 L57.34 4 M63.34 -7.33 L62 -8.67 L60.67 -9.33 L58.67 -9.33 L57.34 -8.67 L56 -7.33 L55.34 -5.33 L55.34 -4 L56 -2 L57.34 -0.67 L58.67 0 L60.67 0 L62 -0.67 L63.34 -2 M69.34 -14 L69.34 -2.67 L70 -0.67 L71.34 0 L72.67 0 M67.34 -9.33 L72 -9.33 M76.67 -14 L76.67 0 M76.67 -6.67 L78.67 -8.67 L80 -9.33 L82 -9.33 L83.34 -8.67 L84 -6.67 L84 0 M104.67 -16.67 L103.34 -15.33 L102.01 -13.33 L100.67 -10.67 L100 -7.33 L100 -4.67 L100.67 -1.33 L102.01 1.33 L103.34 3.33 L104.67 4.67 M113.87 -14 L108.54 0 M113.87 -14 L119.21 0 M110.54 -4.67 L117.21 -4.67 M113.87 -14.13 L112.81 -14.42 L112.02 -15.2 L111.74 -16.27 L112.02 -17.33 L112.81 -18.12 L113.87 -18.4 L114.94 -18.12 L115.72 -17.33 L116.01 -16.27 L115.72 -15.2 L114.94 -14.42 L113.87 -14.13 M122.67 -16.67 L124.01 -15.33 L125.34 -13.33 L126.67 -10.67 L127.34 -7.33 L127.34 -4.67 L126.67 -1.33 L125.34 1.33 L124.01 3.33 L122.67 4.67" stroke="#000"/><path transform="translate(442.2 192.7) rotate(-90)" d="M-90 -9.8 L-90 0 M-90 -5.6 L-89.34 -7.7 L-88 -9.1 L-86.67 -9.8 L-84.67 -9.8 M-82 -5.6 L-74 -5.6 L-74 -7 L-74.67 -8.4 L-75.34 -9.1 L-76.67 -9.8 L-78.67 -9.8 L-80 -9.1 L-81.34 -7.7 L-82 -5.6 L-82 -4.2 L-81.34 -2.1 L-80 -0.7 L-78.67 0 L-76.67 0 L-75.34 -0.7 L-74 -2.1 M-69.34 -14.7 L-69.34 0 M-56.67 -9.8 L-56.67 0 M-56.67 -7.7 L-58 -9.1 L-59.34 -9.8 L-61.34 -9.8 L-62.67 -9.1 L-64 -7.7 L-64.67 -5.6 L-64.67 -4.2 L-64 -2.1 L-62.67 -0.7 L-61.34 0 L-59.34 0 L-58 -0.7 L-56.67 -2.1 M-50.67 -14.7 L-50.67 -2.8 L-50 -0.7 L-48.67 0 L-47.34 0 M-52.67 -9.8 L-48 -9.8 M-44 -14.7 L-43.34 -14 L-42.67 -14.7 L-43.34 -15.4 L-44 -14.7 M-43.34 -9.8 L-43.34 0 M-39.34 -9.8 L-35.34 0 M-31.33 -9.8 L-35.34 0 M-28 -5.6 L-20 -5.6 L-20 -7 L-20.67 -8.4 L-21.33 -9.1 L-22.67 -9.8 L-24.67 -9.8 L-26 -9.1 L-27.33 -7.7 L-28 -5.6 L-28 -4.2 L-27.33 -2.1 L-26 -0.7 L-24.67 0 L-22.67 0 L-21.33 -0.7 L-20 -2.1 M-0.67 -14.7 L-2 -14.7 L-3.33 -14 L-4 -11.9 L-4 0 M-6 -9.8 L-1.33 -9.8 M8 -17.5 L6.67 -16.1 L5.33 -14 L4 -11.2 L3.33 -7.7 L3.33 -4.9 L4 -1.4 L5.33 1.4 L6.67 3.5 L8 4.9 M12.67 -9.8 L12.67 0 M12.67 -7 L14.67 -9.1 L16 -9.8 L18 -9.8 L19.33 -9.1 L20 -7 L20 0 M25.33 -9.8 L25.33 -2.8 L26 -0.7 L27.33 0 L29.33 0 L30.67 -0.7 L32.67 -2.8 M32.67 -9.8 L32.67 0 M37.34 -17.5 L38.67 -16.1 L40 -14 L41.34 -11.2 L42 -7.7 L42 -4.9 L41.34 -1.4 L40 1.4 L38.67 3.5 L37.34 4.9 M62 -14.7 L60.67 -14.7 L59.34 -14 L58.67 -11.9 L58.67 0 M56.67 -9.8 L61.34 -9.8 M66 -14.7 L66 0 M71.34 -9.8 L71.34 -2.8 L72 -0.7 L73.34 0 L75.34 0 L76.67 -0.7 L78.67 -2.8 M78.67 -9.8 L78.67 0 M83.34 -9.8 L90.67 0 M90.67 -9.8 L83.34 0" stroke="#000"/><path transform="translate(544.36 87.47)" d="M6 -14 L0.67 0 M6 -14 L11.33 0 M2.67 -4.67 L9.33 -4.67 M16 -11.33 L17.33 -12 L19.33 -14 L19.33 0 M43.34 -16.67 L42 -15.33 L40.67 -13.33 L39.34 -10.67 L38.67 -7.33 L38.67 -4.67 L39.34 -1.33 L40.67 1.33 L42 3.33 L43.34 4.67 M54.67 -7.33 L54 -8.67 L52 -9.33 L50 -9.33 L48 -8.67 L47.34 -7.33 L48 -6 L49.34 -5.33 L52.67 -4.67 L54 -4 L54.67 -2.67 L54.67 -2 L54 -0.67 L52 0 L50 0 L48 -0.67 L47.34 -2 M62 -9.33 L60.67 -8.67 L59.34 -7.33 L58.67 -5.33 L58.67 -4 L59.34 -2 L60.67 -0.67 L62 0 L64 0 L65.34 -0.67 L66.67 -2 L67.34 -4 L67.34 -5.33 L66.67 -7.33 L65.34 -8.67 L64 -9.33 L62 -9.33 M72 -14 L72 0 M76.67 -14 L77.34 -13.33 L78 -14 L77.34 -14.67 L76.67 -14 M77.34 -9.33 L77.34 0 M90 -14 L90 0 M90 -7.33 L88.67 -8.67 L87.34 -9.33 L85.34 -9.33 L84 -8.67 L82.67 -7.33 L82 -5.33 L82 -4 L82.67 -2 L84 -0.67 L85.34 0 L87.34 0 L88.67 -0.67 L90 -2 M94.67 -16.67 L96 -15.33 L97.34 -13.33 L98.67 -10.67 L99.34 -7.33 L99.34 -4.67 L98.67 -1.33 L97.34 1.33 L96 3.33 L94.67 4.67" stroke="#000000"/><path transform="translate(544.36 121.21)" d="M6.67 -14 L5.33 -14 L4 -13.33 L3.33 -11.33 L3.33 0 M1.33 -9.33 L6 -9.33 M10 -14 L10.67 -13.33 L11.33 -14 L10.67 -14.67 L10 -14 M10.67 -9.33 L10.67 0 M16.67 -14 L16.67 -2.67 L17.33 -0.67 L18.67 0 L20 0 M14.67 -9.33 L19.33 -9.33 M39.34 -16.67 L38 -15.33 L36.67 -13.33 L35.34 -10.67 L34.67 -7.33 L34.67 -4.67 L35.34 -1.33 L36.67 1.33 L38 3.33 L39.34 4.67 M51.34 -14 L51.34 0 M51.34 -7.33 L50 -8.67 L48.67 -9.33 L46.67 -9.33 L45.34 -8.67 L44 -7.33 L43.34 -5.33 L43.34 -4 L44 -2 L45.34 -0.67 L46.67 0 L48.67 0 L50 -0.67 L51.34 -2 M64 -9.33 L64 0 M64 -7.33 L62.67 -8.67 L61.34 -9.33 L59.34 -9.33 L58 -8.67 L56.67 -7.33 L56 -5.33 L56 -4 L56.67 -2 L58 -0.67 L59.34 0 L61.34 0 L62.67 -0.67 L64 -2 M76 -7.33 L75.34 -8.67 L73.34 -9.33 L71.34 -9.33 L69.34 -8.67 L68.67 -7.33 L69.34 -6 L70.67 -5.33 L74 -4.67 L75.34 -4 L76 -2.67 L76 -2 L75.34 -0.67 L73.34 0 L71.34 0 L69.34 -0.67 L68.67 -2 M80.67 -14 L80.67 0 M80.67 -6.67 L82.67 -8.67 L84 -9.33 L86 -9.33 L87.34 -8.67 L88 -6.67 L88 0 M92.67 -5.33 L100.67 -5.33 L100.67 -6.67 L100 -8 L99.34 -8.67 L98 -9.33 L96 -9.33 L94.67 -8.67 L93.34 -7.33 L92.67 -5.33 L92.67 -4 L93.34 -2 L94.67 -0.67 L96 0 L98 0 L99.34 -0.67 L100.67 -2 M112.67 -14 L112.67 0 M112.67 -7.33 L111.34 -8.67 L110.01 -9.33 L108.01 -9.33 L106.67 -8.67 L105.34 -7.33 L104.67 -5.33 L104.67 -4 L105.34 -2 L106.67 -0.67 L108.01 0 L110.01 0 L111.34 -0.67 L112.67 -2 M117.34 -16.67 L118.67 -15.33 L120.01 -13.33 L121.34 -10.67 L122.01 -7.33 L122.01 -4.67 L121.34 -1.33 L120.01 1.33 L118.67 3.33 L117.34 4.67" stroke="#ff00ff"/><path transform="translate(665.43 171.81)" d="M6 -14 L0.67 0 M6 -14 L11.33 0 M2.67 -4.67 L9.33 -4.67 M16 -11.33 L17.33 -12 L19.33 -14 L19.33 0 M46 -14 L46 0 M46 -7.33 L44.67 -8.67 L43.34 -9.33 L41.34 -9.33 L40 -8.67 L38.67 -7.33 L38 -5.33 L38 -4 L38.67 -2 L40 -0.67 L41.34 0 L43.34 0 L44.67 -0.67 L46 -2 M50.67 -5.33 L58.67 -5.33 L58.67 -6.67 L58 -8 L57.34 -8.67 L56 -9.33 L54 -9.33 L52.67 -8.67 L51.34 -7.33 L50.67 -5.33 L50.67 -4 L51.34 -2 L52.67 -0.67 L54 0 L56 0 L57.34 -0.67 L58.67 -2 M70.67 -7.33 L69.34 -8.67 L68 -9.33 L66 -9.33 L64.67 -8.67 L63.34 -7.33 L62.67 -5.33 L62.67 -4 L63.34 -2 L64.67 -0.67 L66 0 L68 0 L69.34 -0.67 L70.67 -2 M78 -9.33 L76.67 -8.67 L75.34 -7.33 L74.67 -5.33 L74.67 -4 L75.34 -2 L76.67 -0.67 L78 0 L80 0 L81.34 -0.67 L82.67 -2 L83.34 -4 L83.34 -5.33 L82.67 -7.33 L81.34 -8.67 L80 -9.33 L78 -9.33 M88 -9.33 L88 0 M88 -6.67 L90 -8.67 L91.34 -9.33 L93.34 -9.33 L94.67 -8.67 L95.34 -6.67 L95.34 0" stroke="#0000ff"/><path transform="translate(665.43 306.76)" d="M2.67 -14 L2.67 0 M2.67 -14 L11.33 -14 M2.67 -7.33 L8 -7.33 M2.67 0 L11.33 0" stroke="#ff0000"/></g>
<g stroke="#000000" stroke-width="3.3" fill="none" stroke-linecap="butt" stroke-linejoin="round"><path d="M159 651.57 L188.2 629.22 L218.5 611.68 L273.3 570.35 L323.7 550.41"/><path d="M159 651.57 V648.62 M159 651.57 V654.53"/><path d="M155.1 648.62H162.9 M155.1 654.53H162.9"/><path d="M188.2 629.22 V625.85 M188.2 629.22 V632.6"/><path d="M184.3 625.85H192.1 M184.3 632.6H192.1"/><path d="M218.5 611.68 V607.89 M218.5 611.68 V615.48"/><path d="M214.6 607.89H222.4 M214.6 615.48H222.4"/><path d="M273.3 570.35 V565.42 M273.3 570.35 V575.29"/><path d="M269.4 565.42H277.2 M269.4 575.29H277.2"/><path d="M323.7 550.41 V531.3 M323.7 550.41 V569.51"/><path d="M319.8 531.3H327.6 M319.8 569.51H327.6"/><rect x="156.2" y="648.77" width="5.6" height="5.6" rx="1.3" fill="#000000" stroke="none"/><rect x="185.4" y="626.42" width="5.6" height="5.6" rx="1.3" fill="#000000" stroke="none"/><rect x="215.7" y="608.88" width="5.6" height="5.6" rx="1.3" fill="#000000" stroke="none"/><rect x="270.5" y="567.55" width="5.6" height="5.6" rx="1.3" fill="#000000" stroke="none"/><rect x="320.9" y="547.61" width="5.6" height="5.6" rx="1.3" fill="#000000" stroke="none"/></g>
<g stroke="#0000ff" stroke-width="3.3" fill="none" stroke-linecap="butt" stroke-linejoin="round"><path d="M159 654.11 L188.2 637.11 L218.5 629.31 L273.3 602.19 L323.7 599.03"/><path d="M159 654.11 V651.57 M159 654.11 V656.64"/><path d="M155.1 651.57H162.9 M155.1 656.64H162.9"/><path d="M188.2 637.11 V632.01 M188.2 637.11 V642.21"/><path d="M184.3 632.01H192.1 M184.3 642.21H192.1"/><path d="M218.5 629.31 V623.91 M218.5 629.31 V634.71"/><path d="M214.6 623.91H222.4 M214.6 634.71H222.4"/><path d="M273.3 602.19 V593.04 M273.3 602.19 V611.34"/><path d="M269.4 593.04H277.2 M269.4 611.34H277.2"/><path d="M323.7 599.03 V576.47 M323.7 599.03 V621.59"/><path d="M319.8 576.47H327.6 M319.8 621.59H327.6"/><rect x="156.2" y="651.31" width="5.6" height="5.6" rx="1.3" fill="#0000ff" stroke="none"/><rect x="185.4" y="634.31" width="5.6" height="5.6" rx="1.3" fill="#0000ff" stroke="none"/><rect x="215.7" y="626.51" width="5.6" height="5.6" rx="1.3" fill="#0000ff" stroke="none"/><rect x="270.5" y="599.39" width="5.6" height="5.6" rx="1.3" fill="#0000ff" stroke="none"/><rect x="320.9" y="596.23" width="5.6" height="5.6" rx="1.3" fill="#0000ff" stroke="none"/></g>
<g stroke="#ff0000" stroke-width="3.3" fill="none" stroke-linecap="butt" stroke-linejoin="round"><path d="M159 737.18 L188.2 731.91 L218.5 722.3 L273.3 707.79 L323.7 692.48"/><path d="M159 737.18 V736.34 M159 737.18 V738.03"/><path d="M155.1 736.34H162.9 M155.1 738.03H162.9"/><path d="M188.2 731.91 V730.22 M188.2 731.91 V733.6"/><path d="M184.3 730.22H192.1 M184.3 733.6H192.1"/><path d="M218.5 722.3 V718.8 M218.5 722.3 V725.8"/><path d="M214.6 718.8H222.4 M214.6 725.8H222.4"/><path d="M273.3 707.79 V699.95 M273.3 707.79 V715.63"/><path d="M269.4 699.95H277.2 M269.4 715.63H277.2"/><path d="M323.7 692.48 V681.01 M323.7 692.48 V703.95"/><path d="M319.8 681.01H327.6 M319.8 703.95H327.6"/><rect x="156.2" y="734.38" width="5.6" height="5.6" rx="1.3" fill="#ff0000" stroke="none"/><rect x="185.4" y="729.11" width="5.6" height="5.6" rx="1.3" fill="#ff0000" stroke="none"/><rect x="215.7" y="719.5" width="5.6" height="5.6" rx="1.3" fill="#ff0000" stroke="none"/><rect x="270.5" y="704.99" width="5.6" height="5.6" rx="1.3" fill="#ff0000" stroke="none"/><rect x="320.9" y="689.68" width="5.6" height="5.6" rx="1.3" fill="#ff0000" stroke="none"/></g>
<g stroke="#ff00ff" stroke-width="3.3" fill="none" stroke-linecap="butt" stroke-linejoin="round"><path d="M159 652.8 L188.2 625.09 L218.5 611.6 L273.3 569.89 L323.7 551.8" stroke-dasharray="11 8.3"/><rect x="155.1" y="649.9" width="7.8" height="5.8" rx="2.9" fill="#ff00ff" stroke="none"/><rect x="184.3" y="622.19" width="7.8" height="5.8" rx="2.9" fill="#ff00ff" stroke="none"/><rect x="214.6" y="608.7" width="7.8" height="5.8" rx="2.9" fill="#ff00ff" stroke="none"/><rect x="269.4" y="566.99" width="7.8" height="5.8" rx="2.9" fill="#ff00ff" stroke="none"/><rect x="319.8" y="548.9" width="7.8" height="5.8" rx="2.9" fill="#ff00ff" stroke="none"/></g>
<path d="M110.38 741.4v-7.6 M110.38 446.2v7.6 M130.56 741.4v-14.3 M130.56 446.2v14.3 M150.74 741.4v-7.6 M150.74 446.2v7.6 M170.91 741.4v-7.6 M170.91 446.2v7.6 M191.09 741.4v-7.6 M191.09 446.2v7.6 M211.27 741.4v-14.3 M211.27 446.2v14.3 M231.45 741.4v-7.6 M231.45 446.2v7.6 M251.63 741.4v-7.6 M251.63 446.2v7.6 M271.81 741.4v-7.6 M271.81 446.2v7.6 M291.99 741.4v-14.3 M291.99 446.2v14.3 M312.16 741.4v-7.6 M312.16 446.2v7.6 M332.34 741.4v-7.6 M332.34 446.2v7.6 M352.52 741.4v-7.6 M352.52 446.2v7.6 M90.2 720.31h7.6 M372.7 720.31h-7.6 M90.2 699.23h7.6 M372.7 699.23h-7.6 M90.2 678.14h7.6 M372.7 678.14h-7.6 M90.2 657.06h14.3 M372.7 657.06h-14.3 M90.2 635.97h7.6 M372.7 635.97h-7.6 M90.2 614.89h7.6 M372.7 614.89h-7.6 M90.2 593.8h7.6 M372.7 593.8h-7.6 M90.2 572.71h14.3 M372.7 572.71h-14.3 M90.2 551.63h7.6 M372.7 551.63h-7.6 M90.2 530.54h7.6 M372.7 530.54h-7.6 M90.2 509.46h7.6 M372.7 509.46h-7.6 M90.2 488.37h14.3 M372.7 488.37h-14.3 M90.2 467.29h7.6 M372.7 467.29h-7.6" stroke="#000" stroke-width="3.1" fill="none"/>
<rect x="90.2" y="446.2" width="282.5" height="295.2" fill="none" stroke="#000" stroke-width="3.3"/>
<g fill="none" stroke-width="3.3" stroke-linecap="butt" stroke-linejoin="round"><path transform="translate(130.56 767.4)" d="M-18 -14 L-24.67 -4.67 L-14.67 -4.67 M-18 -14 L-18 0 M-7.33 -14 L-9.33 -13.33 L-10.67 -11.33 L-11.33 -8 L-11.33 -6 L-10.67 -2.67 L-9.33 -0.67 L-7.33 0 L-6 0 L-4 -0.67 L-2.67 -2.67 L-2 -6 L-2 -8 L-2.67 -11.33 L-4 -13.33 L-6 -14 L-7.33 -14 M6 -14 L4 -13.33 L2.67 -11.33 L2 -8 L2 -6 L2.67 -2.67 L4 -0.67 L6 0 L7.33 0 L9.33 -0.67 L10.67 -2.67 L11.33 -6 L11.33 -8 L10.67 -11.33 L9.33 -13.33 L7.33 -14 L6 -14 M19.33 -14 L17.33 -13.33 L16 -11.33 L15.33 -8 L15.33 -6 L16 -2.67 L17.33 -0.67 L19.33 0 L20.67 0 L22.67 -0.67 L24 -2.67 L24.67 -6 L24.67 -8 L24 -11.33 L22.67 -13.33 L20.67 -14 L19.33 -14" stroke="#000"/><path transform="translate(211.27 767.4)" d="M-16 -12 L-16.67 -13.33 L-18.67 -14 L-20 -14 L-22 -13.33 L-23.33 -11.33 L-24 -8 L-24 -4.67 L-23.33 -2 L-22 -0.67 L-20 0 L-19.33 0 L-17.33 -0.67 L-16 -2 L-15.33 -4 L-15.33 -4.67 L-16 -6.67 L-17.33 -8 L-19.33 -8.67 L-20 -8.67 L-22 -8 L-23.33 -6.67 L-24 -4.67 M-7.33 -14 L-9.33 -13.33 L-10.67 -11.33 L-11.33 -8 L-11.33 -6 L-10.67 -2.67 L-9.33 -0.67 L-7.33 0 L-6 0 L-4 -0.67 L-2.67 -2.67 L-2 -6 L-2 -8 L-2.67 -11.33 L-4 -13.33 L-6 -14 L-7.33 -14 M6 -14 L4 -13.33 L2.67 -11.33 L2 -8 L2 -6 L2.67 -2.67 L4 -0.67 L6 0 L7.33 0 L9.33 -0.67 L10.67 -2.67 L11.33 -6 L11.33 -8 L10.67 -11.33 L9.33 -13.33 L7.33 -14 L6 -14 M19.33 -14 L17.33 -13.33 L16 -11.33 L15.33 -8 L15.33 -6 L16 -2.67 L17.33 -0.67 L19.33 0 L20.67 0 L22.67 -0.67 L24 -2.67 L24.67 -6 L24.67 -8 L24 -11.33 L22.67 -13.33 L20.67 -14 L19.33 -14" stroke="#000"/><path transform="translate(291.99 767.4)" d="M-21.33 -14 L-23.33 -13.33 L-24 -12 L-24 -10.67 L-23.33 -9.33 L-22 -8.67 L-19.33 -8 L-17.33 -7.33 L-16 -6 L-15.33 -4.67 L-15.33 -2.67 L-16 -1.33 L-16.67 -0.67 L-18.67 0 L-21.33 0 L-23.33 -0.67 L-24 -1.33 L-24.67 -2.67 L-24.67 -4.67 L-24 -6 L-22.67 -7.33 L-20.67 -8 L-18 -8.67 L-16.67 -9.33 L-16 -10.67 L-16 -12 L-16.67 -13.33 L-18.67 -14 L-21.33 -14 M-7.33 -14 L-9.33 -13.33 L-10.67 -11.33 L-11.33 -8 L-11.33 -6 L-10.67 -2.67 L-9.33 -0.67 L-7.33 0 L-6 0 L-4 -0.67 L-2.67 -2.67 L-2 -6 L-2 -8 L-2.67 -11.33 L-4 -13.33 L-6 -14 L-7.33 -14 M6 -14 L4 -13.33 L2.67 -11.33 L2 -8 L2 -6 L2.67 -2.67 L4 -0.67 L6 0 L7.33 0 L9.33 -0.67 L10.67 -2.67 L11.33 -6 L11.33 -8 L10.67 -11.33 L9.33 -13.33 L7.33 -14 L6 -14 M19.33 -14 L17.33 -13.33 L16 -11.33 L15.33 -8 L15.33 -6 L16 -2.67 L17.33 -0.67 L19.33 0 L20.67 0 L22.67 -0.67 L24 -2.67 L24.67 -6 L24.67 -8 L24 -11.33 L22.67 -13.33 L20.67 -14 L19.33 -14" stroke="#000"/><path transform="translate(372.7 767.4)" d="M-29.33 -11.33 L-28 -12 L-26 -14 L-26 0 M-14 -14 L-16 -13.33 L-17.33 -11.33 L-18 -8 L-18 -6 L-17.33 -2.67 L-16 -0.67 L-14 0 L-12.67 0 L-10.67 -0.67 L-9.33 -2.67 L-8.67 -6 L-8.67 -8 L-9.33 -11.33 L-10.67 -13.33 L-12.67 -14 L-14 -14 M-0.67 -14 L-2.67 -13.33 L-4 -11.33 L-4.67 -8 L-4.67 -6 L-4 -2.67 L-2.67 -0.67 L-0.67 0 L0.67 0 L2.67 -0.67 L4 -2.67 L4.67 -6 L4.67 -8 L4 -11.33 L2.67 -13.33 L0.67 -14 L-0.67 -14 M12.67 -14 L10.67 -13.33 L9.33 -11.33 L8.67 -8 L8.67 -6 L9.33 -2.67 L10.67 -0.67 L12.67 0 L14 0 L16 -0.67 L17.33 -2.67 L18 -6 L18 -8 L17.33 -11.33 L16 -13.33 L14 -14 L12.67 -14 M26 -14 L24 -13.33 L22.67 -11.33 L22 -8 L22 -6 L22.67 -2.67 L24 -0.67 L26 0 L27.33 0 L29.33 -0.67 L30.67 -2.67 L31.33 -6 L31.33 -8 L30.67 -11.33 L29.33 -13.33 L27.33 -14 L26 -14" stroke="#000"/><path transform="translate(78.2 748.45)" d="M-7.33 -14 L-9.33 -13.33 L-10.67 -11.33 L-11.33 -8 L-11.33 -6 L-10.67 -2.67 L-9.33 -0.67 L-7.33 0 L-6 0 L-4 -0.67 L-2.67 -2.67 L-2 -6 L-2 -8 L-2.67 -11.33 L-4 -13.33 L-6 -14 L-7.33 -14" stroke="#000"/><path transform="translate(78.2 664.11)" d="M-27.33 -14 L-29.33 -13.33 L-30.67 -11.33 L-31.33 -8 L-31.33 -6 L-30.67 -2.67 L-29.33 -0.67 L-27.33 0 L-26 0 L-24 -0.67 L-22.67 -2.67 L-22 -6 L-22 -8 L-22.67 -11.33 L-24 -13.33 L-26 -14 L-27.33 -14 M-16.67 -1.33 L-17.33 -0.67 L-16.67 0 L-16 -0.67 L-16.67 -1.33 M-10.67 -10.67 L-10.67 -11.33 L-10 -12.67 L-9.33 -13.33 L-8 -14 L-5.33 -14 L-4 -13.33 L-3.33 -12.67 L-2.67 -11.33 L-2.67 -10 L-3.33 -8.67 L-4.67 -6.67 L-11.33 0 L-2 0" stroke="#000"/><path transform="translate(78.2 579.76)" d="M-27.33 -14 L-29.33 -13.33 L-30.67 -11.33 L-31.33 -8 L-31.33 -6 L-30.67 -2.67 L-29.33 -0.67 L-27.33 0 L-26 0 L-24 -0.67 L-22.67 -2.67 L-22 -6 L-22 -8 L-22.67 -11.33 L-24 -13.33 L-26 -14 L-27.33 -14 M-16.67 -1.33 L-17.33 -0.67 L-16.67 0 L-16 -0.67 L-16.67 -1.33 M-4.67 -14 L-11.33 -4.67 L-1.33 -4.67 M-4.67 -14 L-4.67 0" stroke="#000"/><path transform="translate(78.2 495.42)" d="M-27.33 -14 L-29.33 -13.33 L-30.67 -11.33 L-31.33 -8 L-31.33 -6 L-30.67 -2.67 L-29.33 -0.67 L-27.33 0 L-26 0 L-24 -0.67 L-22.67 -2.67 L-22 -6 L-22 -8 L-22.67 -11.33 L-24 -13.33 L-26 -14 L-27.33 -14 M-16.67 -1.33 L-17.33 -0.67 L-16.67 0 L-16 -0.67 L-16.67 -1.33 M-2.67 -12 L-3.33 -13.33 L-5.33 -14 L-6.67 -14 L-8.67 -13.33 L-10 -11.33 L-10.67 -8 L-10.67 -4.67 L-10 -2 L-8.67 -0.67 L-6.67 0 L-6 0 L-4 -0.67 L-2.67 -2 L-2 -4 L-2 -4.67 L-2.67 -6.67 L-4 -8 L-6 -8.67 L-6.67 -8.67 L-8.67 -8 L-10 -6.67 L-10.67 -4.67" stroke="#000"/><path transform="translate(231.85 798.6)" d="M-124.67 -9.33 L-126.01 -8.67 L-127.34 -7.33 L-128.01 -5.33 L-128.01 -4 L-127.34 -2 L-126.01 -0.67 L-124.67 0 L-122.67 0 L-121.34 -0.67 L-120.01 -2 L-119.34 -4 L-119.34 -5.33 L-120.01 -7.33 L-121.34 -8.67 L-122.67 -9.33 L-124.67 -9.33 M-114.67 -14 L-114.67 0 M-114.67 -7.33 L-113.34 -8.67 L-112.01 -9.33 L-110.01 -9.33 L-108.67 -8.67 L-107.34 -7.33 L-106.67 -5.33 L-106.67 -4 L-107.34 -2 L-108.67 -0.67 L-110.01 0 L-112.01 0 L-113.34 -0.67 L-114.67 -2 M-95.34 -7.33 L-96 -8.67 L-98 -9.33 L-100 -9.33 L-102.01 -8.67 L-102.67 -7.33 L-102.01 -6 L-100.67 -5.33 L-97.34 -4.67 L-96 -4 L-95.34 -2.67 L-95.34 -2 L-96 -0.67 L-98 0 L-100 0 L-102.01 -0.67 L-102.67 -2 M-91.34 -5.33 L-83.34 -5.33 L-83.34 -6.67 L-84 -8 L-84.67 -8.67 L-86 -9.33 L-88 -9.33 L-89.34 -8.67 L-90.67 -7.33 L-91.34 -5.33 L-91.34 -4 L-90.67 -2 L-89.34 -0.67 L-88 0 L-86 0 L-84.67 -0.67 L-83.34 -2 M-78.67 -9.33 L-78.67 0 M-78.67 -5.33 L-78 -7.33 L-76.67 -8.67 L-75.34 -9.33 L-73.34 -9.33 M-71.34 -9.33 L-67.34 0 M-63.34 -9.33 L-67.34 0 M-60 -5.33 L-52 -5.33 L-52 -6.67 L-52.67 -8 L-53.34 -8.67 L-54.67 -9.33 L-56.67 -9.33 L-58 -8.67 L-59.34 -7.33 L-60 -5.33 L-60 -4 L-59.34 -2 L-58 -0.67 L-56.67 0 L-54.67 0 L-53.34 -0.67 L-52 -2 M-40 -14 L-40 0 M-40 -7.33 L-41.34 -8.67 L-42.67 -9.33 L-44.67 -9.33 L-46 -8.67 L-47.34 -7.33 L-48 -5.33 L-48 -4 L-47.34 -2 L-46 -0.67 L-44.67 0 L-42.67 0 L-41.34 -0.67 L-40 -2 M-24.67 -9.33 L-22 0 M-19.33 -9.33 L-22 0 M-19.33 -9.33 L-16.67 0 M-14 -9.33 L-16.67 0 M-2 -9.33 L-2 0 M-2 -7.33 L-3.33 -8.67 L-4.67 -9.33 L-6.67 -9.33 L-8 -8.67 L-9.33 -7.33 L-10 -5.33 L-10 -4 L-9.33 -2 L-8 -0.67 L-6.67 0 L-4.67 0 L-3.33 -0.67 L-2 -2 M2 -9.33 L6 0 M10 -9.33 L6 0 M13.33 -5.33 L21.33 -5.33 L21.33 -6.67 L20.67 -8 L20 -8.67 L18.67 -9.33 L16.67 -9.33 L15.33 -8.67 L14 -7.33 L13.33 -5.33 L13.33 -4 L14 -2 L15.33 -0.67 L16.67 0 L18.67 0 L20 -0.67 L21.33 -2 M26 -14 L26 0 M30.67 -5.33 L38.67 -5.33 L38.67 -6.67 L38 -8 L37.34 -8.67 L36 -9.33 L34 -9.33 L32.67 -8.67 L31.33 -7.33 L30.67 -5.33 L30.67 -4 L31.33 -2 L32.67 -0.67 L34 0 L36 0 L37.34 -0.67 L38.67 -2 M43.34 -9.33 L43.34 0 M43.34 -6.67 L45.34 -8.67 L46.67 -9.33 L48.67 -9.33 L50 -8.67 L50.67 -6.67 L50.67 0 M63.34 -9.33 L63.34 1.33 L62.67 3.33 L62 4 L60.67 4.67 L58.67 4.67 L57.34 4 M63.34 -7.33 L62 -8.67 L60.67 -9.33 L58.67 -9.33 L57.34 -8.67 L56 -7.33 L55.34 -5.33 L55.34 -4 L56 -2 L57.34 -0.67 L58.67 0 L60.67 0 L62 -0.67 L63.34 -2 M69.34 -14 L69.34 -2.67 L70 -0.67 L71.34 0 L72.67 0 M67.34 -9.33 L72 -9.33 M76.67 -14 L76.67 0 M76.67 -6.67 L78.67 -8.67 L80 -9.33 L82 -9.33 L83.34 -8.67 L84 -6.67 L84 0 M104.67 -16.67 L103.34 -15.33 L102.01 -13.33 L100.67 -10.67 L100 -7.33 L100 -4.67 L100.67 -1.33 L102.01 1.33 L103.34 3.33 L104.67 4.67 M113.87 -14 L108.54 0 M113.87 -14 L119.21 0 M110.54 -4.67 L117.21 -4.67 M113.87 -14.13 L112.81 -14.42 L112.02 -15.2 L111.74 -16.27 L112.02 -17.33 L112.81 -18.12 L113.87 -18.4 L114.94 -18.12 L115.72 -17.33 L116.01 -16.27 L115.72 -15.2 L114.94 -14.42 L113.87 -14.13 M122.67 -16.67 L124.01 -15.33 L125.34 -13.33 L126.67 -10.67 L127.34 -7.33 L127.34 -4.67 L126.67 -1.33 L125.34 1.33 L124.01 3.33 L122.67 4.67" stroke="#000"/><path transform="translate(28.4 593.6) rotate(-90)" d="M-90 -9.8 L-90 0 M-90 -5.6 L-89.34 -7.7 L-88 -9.1 L-86.67 -9.8 L-84.67 -9.8 M-82 -5.6 L-74 -5.6 L-74 -7 L-74.67 -8.4 L-75.34 -9.1 L-76.67 -9.8 L-78.67 -9.8 L-80 -9.1 L-81.34 -7.7 L-82 -5.6 L-82 -4.2 L-81.34 -2.1 L-80 -0.7 L-78.67 0 L-76.67 0 L-75.34 -0.7 L-74 -2.1 M-69.34 -14.7 L-69.34 0 M-56.67 -9.8 L-56.67 0 M-56.67 -7.7 L-58 -9.1 L-59.34 -9.8 L-61.34 -9.8 L-62.67 -9.1 L-64 -7.7 L-64.67 -5.6 L-64.67 -4.2 L-64 -2.1 L-62.67 -0.7 L-61.34 0 L-59.34 0 L-58 -0.7 L-56.67 -2.1 M-50.67 -14.7 L-50.67 -2.8 L-50 -0.7 L-48.67 0 L-47.34 0 M-52.67 -9.8 L-48 -9.8 M-44 -14.7 L-43.34 -14 L-42.67 -14.7 L-43.34 -15.4 L-44 -14.7 M-43.34 -9.8 L-43.34 0 M-39.34 -9.8 L-35.34 0 M-31.33 -9.8 L-35.34 0 M-28 -5.6 L-20 -5.6 L-20 -7 L-20.67 -8.4 L-21.33 -9.1 L-22.67 -9.8 L-24.67 -9.8 L-26 -9.1 L-27.33 -7.7 L-28 -5.6 L-28 -4.2 L-27.33 -2.1 L-26 -0.7 L-24.67 0 L-22.67 0 L-21.33 -0.7 L-20 -2.1 M-0.67 -14.7 L-2 -14.7 L-3.33 -14 L-4 -11.9 L-4 0 M-6 -9.8 L-1.33 -9.8 M8 -17.5 L6.67 -16.1 L5.33 -14 L4 -11.2 L3.33 -7.7 L3.33 -4.9 L4 -1.4 L5.33 1.4 L6.67 3.5 L8 4.9 M12.67 -9.8 L12.67 0 M12.67 -7 L14.67 -9.1 L16 -9.8 L18 -9.8 L19.33 -9.1 L20 -7 L20 0 M25.33 -9.8 L25.33 -2.8 L26 -0.7 L27.33 0 L29.33 0 L30.67 -0.7 L32.67 -2.8 M32.67 -9.8 L32.67 0 M37.34 -17.5 L38.67 -16.1 L40 -14 L41.34 -11.2 L42 -7.7 L42 -4.9 L41.34 -1.4 L40 1.4 L38.67 3.5 L37.34 4.9 M62 -14.7 L60.67 -14.7 L59.34 -14 L58.67 -11.9 L58.67 0 M56.67 -9.8 L61.34 -9.8 M66 -14.7 L66 0 M71.34 -9.8 L71.34 -2.8 L72 -0.7 L73.34 0 L75.34 0 L76.67 -0.7 L78.67 -2.8 M78.67 -9.8 L78.67 0 M83.34 -9.8 L90.67 0 M90.67 -9.8 L83.34 0" stroke="#000"/><path transform="translate(130.56 517.89)" d="M6 -14 L0.67 0 M6 -14 L11.33 0 M2.67 -4.67 L9.33 -4.67 M14.67 -10.67 L14.67 -11.33 L15.33 -12.67 L16 -13.33 L17.33 -14 L20 -14 L21.33 -13.33 L22 -12.67 L22.67 -11.33 L22.67 -10 L22 -8.67 L20.67 -6.67 L14 0 L23.33 0 M43.34 -16.67 L42 -15.33 L40.67 -13.33 L39.34 -10.67 L38.67 -7.33 L38.67 -4.67 L39.34 -1.33 L40.67 1.33 L42 3.33 L43.34 4.67 M54.67 -7.33 L54 -8.67 L52 -9.33 L50 -9.33 L48 -8.67 L47.34 -7.33 L48 -6 L49.34 -5.33 L52.67 -4.67 L54 -4 L54.67 -2.67 L54.67 -2 L54 -0.67 L52 0 L50 0 L48 -0.67 L47.34 -2 M62 -9.33 L60.67 -8.67 L59.34 -7.33 L58.67 -5.33 L58.67 -4 L59.34 -2 L60.67 -0.67 L62 0 L64 0 L65.34 -0.67 L66.67 -2 L67.34 -4 L67.34 -5.33 L66.67 -7.33 L65.34 -8.67 L64 -9.33 L62 -9.33 M72 -14 L72 0 M76.67 -14 L77.34 -13.33 L78 -14 L77.34 -14.67 L76.67 -14 M77.34 -9.33 L77.34 0 M90 -14 L90 0 M90 -7.33 L88.67 -8.67 L87.34 -9.33 L85.34 -9.33 L84 -8.67 L82.67 -7.33 L82 -5.33 L82 -4 L82.67 -2 L84 -0.67 L85.34 0 L87.34 0 L88.67 -0.67 L90 -2 M94.67 -16.67 L96 -15.33 L97.34 -13.33 L98.67 -10.67 L99.34 -7.33 L99.34 -4.67 L98.67 -1.33 L97.34 1.33 L96 3.33 L94.67 4.67" stroke="#000000"/><path transform="translate(130.56 551.63)" d="M6.67 -14 L5.33 -14 L4 -13.33 L3.33 -11.33 L3.33 0 M1.33 -9.33 L6 -9.33 M10 -14 L10.67 -13.33 L11.33 -14 L10.67 -14.67 L10 -14 M10.67 -9.33 L10.67 0 M16.67 -14 L16.67 -2.67 L17.33 -0.67 L18.67 0 L20 0 M14.67 -9.33 L19.33 -9.33 M39.34 -16.67 L38 -15.33 L36.67 -13.33 L35.34 -10.67 L34.67 -7.33 L34.67 -4.67 L35.34 -1.33 L36.67 1.33 L38 3.33 L39.34 4.67 M51.34 -14 L51.34 0 M51.34 -7.33 L50 -8.67 L48.67 -9.33 L46.67 -9.33 L45.34 -8.67 L44 -7.33 L43.34 -5.33 L43.34 -4 L44 -2 L45.34 -0.67 L46.67 0 L48.67 0 L50 -0.67 L51.34 -2 M64 -9.33 L64 0 M64 -7.33 L62.67 -8.67 L61.34 -9.33 L59.34 -9.33 L58 -8.67 L56.67 -7.33 L56 -5.33 L56 -4 L56.67 -2 L58 -0.67 L59.34 0 L61.34 0 L62.67 -0.67 L64 -2 M76 -7.33 L75.34 -8.67 L73.34 -9.33 L71.34 -9.33 L69.34 -8.67 L68.67 -7.33 L69.34 -6 L70.67 -5.33 L74 -4.67 L75.34 -4 L76 -2.67 L76 -2 L75.34 -0.67 L73.34 0 L71.34 0 L69.34 -0.67 L68.67 -2 M80.67 -14 L80.67 0 M80.67 -6.67 L82.67 -8.67 L84 -9.33 L86 -9.33 L87.34 -8.67 L88 -6.67 L88 0 M92.67 -5.33 L100.67 -5.33 L100.67 -6.67 L100 -8 L99.34 -8.67 L98 -9.33 L96 -9.33 L94.67 -8.67 L93.34 -7.33 L92.67 -5.33 L92.67 -4 L93.34 -2 L94.67 -0.67 L96 0 L98 0 L99.34 -0.67 L100.67 -2 M112.67 -14 L112.67 0 M112.67 -7.33 L111.34 -8.67 L110.01 -9.33 L108.01 -9.33 L106.67 -8.67 L105.34 -7.33 L104.67 -5.33 L104.67 -4 L105.34 -2 L106.67 -0.67 L108.01 0 L110.01 0 L111.34 -0.67 L112.67 -2 M117.34 -16.67 L118.67 -15.33 L120.01 -13.33 L121.34 -10.67 L122.01 -7.33 L122.01 -4.67 L121.34 -1.33 L120.01 1.33 L118.67 3.33 L117.34 4.67" stroke="#ff00ff"/><path transform="translate(251.63 635.97)" d="M6 -14 L0.67 0 M6 -14 L11.33 0 M2.67 -4.67 L9.33 -4.67 M14.67 -10.67 L14.67 -11.33 L15.33 -12.67 L16 -13.33 L17.33 -14 L20 -14 L21.33 -13.33 L22 -12.67 L22.67 -11.33 L22.67 -10 L22 -8.67 L20.67 -6.67 L14 0 L23.33 0 M46 -14 L46 0 M46 -7.33 L44.67 -8.67 L43.34 -9.33 L41.34 -9.33 L40 -8.67 L38.67 -7.33 L38 -5.33 L38 -4 L38.67 -2 L40 -0.67 L41.34 0 L43.34 0 L44.67 -0.67 L46 -2 M50.67 -5.33 L58.67 -5.33 L58.67 -6.67 L58 -8 L57.34 -8.67 L56 -9.33 L54 -9.33 L52.67 -8.67 L51.34 -7.33 L50.67 -5.33 L50.67 -4 L51.34 -2 L52.67 -0.67 L54 0 L56 0 L57.34 -0.67 L58.67 -2 M70.67 -7.33 L69.34 -8.67 L68 -9.33 L66 -9.33 L64.67 -8.67 L63.34 -7.33 L62.67 -5.33 L62.67 -4 L63.34 -2 L64.67 -0.67 L66 0 L68 0 L69.34 -0.67 L70.67 -2 M78 -9.33 L76.67 -8.67 L75.34 -7.33 L74.67 -5.33 L74.67 -4 L75.34 -2 L76.67 -0.67 L78 0 L80 0 L81.34 -0.67 L82.67 -2 L83.34 -4 L83.34 -5.33 L82.67 -7.33 L81.34 -8.67 L80 -9.33 L78 -9.33 M88 -9.33 L88 0 M88 -6.67 L90 -8.67 L91.34 -9.33 L93.34 -9.33 L94.67 -8.67 L95.34 -6.67 L95.34 0" stroke="#0000ff"/><path transform="translate(251.63 690.79)" d="M2.67 -14 L2.67 0 M2.67 -14 L11.33 -14 M2.67 -7.33 L8 -7.33 M2.67 0 L11.33 0" stroke="#ff0000"/></g>
<g stroke="#000000" stroke-width="3.3" fill="none" stroke-linecap="butt" stroke-linejoin="round"><path d="M572.8 651.75 L602 627.15 L632.3 611.84 L687.1 572.2 L737.5 567.84"/><path d="M572.8 651.75 V649.56 M572.8 651.75 V653.93"/><path d="M568.9 649.56H576.7 M568.9 653.93H576.7"/><path d="M602 627.15 V623.87 M602 627.15 V630.43"/><path d="M598.1 623.87H605.9 M598.1 630.43H605.9"/><path d="M632.3 611.84 V609.65 M632.3 611.84 V614.03"/><path d="M628.4 609.65H636.2 M628.4 614.03H636.2"/><path d="M687.1 572.2 V569.46 M687.1 572.2 V574.93"/><path d="M683.2 569.46H691 M683.2 574.93H691"/><path d="M737.5 567.84 V556.3 M737.5 567.84 V579.39"/><path d="M733.6 556.3H741.4 M733.6 579.39H741.4"/><rect x="570" y="648.95" width="5.6" height="5.6" rx="1.3" fill="#000000" stroke="none"/><rect x="599.2" y="624.35" width="5.6" height="5.6" rx="1.3" fill="#000000" stroke="none"/><rect x="629.5" y="609.04" width="5.6" height="5.6" rx="1.3" fill="#000000" stroke="none"/><rect x="684.3" y="569.4" width="5.6" height="5.6" rx="1.3" fill="#000000" stroke="none"/><rect x="734.7" y="565.04" width="5.6" height="5.6" rx="1.3" fill="#000000" stroke="none"/></g>
<g stroke="#0000ff" stroke-width="3.3" fill="none" stroke-linecap="butt" stroke-linejoin="round"><path d="M572.8 653.93 L602 634.03 L632.3 623.87 L687.1 594.13 L737.5 601.09"/><path d="M572.8 653.93 V651.2 M572.8 653.93 V656.67"/><path d="M568.9 651.2H576.7 M568.9 656.67H576.7"/><path d="M602 634.03 V629.55 M602 634.03 V638.52"/><path d="M598.1 629.55H605.9 M598.1 638.52H605.9"/><path d="M632.3 623.87 V619.32 M632.3 623.87 V628.41"/><path d="M628.4 619.32H636.2 M628.4 628.41H636.2"/><path d="M687.1 594.13 V585.77 M687.1 594.13 V602.48"/><path d="M683.2 585.77H691 M683.2 602.48H691"/><path d="M737.5 601.09 V585.55 M737.5 601.09 V616.64"/><path d="M733.6 585.55H741.4 M733.6 616.64H741.4"/><rect x="570" y="651.13" width="5.6" height="5.6" rx="1.3" fill="#0000ff" stroke="none"/><rect x="599.2" y="631.23" width="5.6" height="5.6" rx="1.3" fill="#0000ff" stroke="none"/><rect x="629.5" y="621.07" width="5.6" height="5.6" rx="1.3" fill="#0000ff" stroke="none"/><rect x="684.3" y="591.33" width="5.6" height="5.6" rx="1.3" fill="#0000ff" stroke="none"/><rect x="734.7" y="598.29" width="5.6" height="5.6" rx="1.3" fill="#0000ff" stroke="none"/></g>
<g stroke="#ff0000" stroke-width="3.3" fill="none" stroke-linecap="butt" stroke-linejoin="round"><path d="M572.8 738.45 L602 734.84 L632.3 728.28 L687.1 718.88 L737.5 708.6"/><path d="M572.8 738.45 V737.35 M572.8 738.45 V739.54"/><path d="M568.9 737.35H576.7 M568.9 739.54H576.7"/><path d="M602 734.84 V732.65 M602 734.84 V737.03"/><path d="M598.1 732.65H605.9 M598.1 737.03H605.9"/><path d="M632.3 728.28 V725.33 M632.3 728.28 V731.23"/><path d="M628.4 725.33H636.2 M628.4 731.23H636.2"/><path d="M687.1 718.88 V712.75 M687.1 718.88 V725"/><path d="M683.2 712.75H691 M683.2 725H691"/><path d="M737.5 708.6 V698.98 M737.5 708.6 V718.22"/><path d="M733.6 698.98H741.4 M733.6 718.22H741.4"/><rect x="570" y="735.65" width="5.6" height="5.6" rx="1.3" fill="#ff0000" stroke="none"/><rect x="599.2" y="732.04" width="5.6" height="5.6" rx="1.3" fill="#ff0000" stroke="none"/><rect x="629.5" y="725.48" width="5.6" height="5.6" rx="1.3" fill="#ff0000" stroke="none"/><rect x="684.3" y="716.08" width="5.6" height="5.6" rx="1.3" fill="#ff0000" stroke="none"/><rect x="734.7" y="705.8" width="5.6" height="5.6" rx="1.3" fill="#ff0000" stroke="none"/></g>
<g stroke="#ff00ff" stroke-width="3.3" fill="none" stroke-linecap="butt" stroke-linejoin="round"><path d="M572.8 652.19 L602 625.73 L632.3 614.79 L687.1 576.42 L737.5 564.72" stroke-dasharray="11 8.3"/><rect x="568.9" y="649.29" width="7.8" height="5.8" rx="2.9" fill="#ff00ff" stroke="none"/><rect x="598.1" y="622.83" width="7.8" height="5.8" rx="2.9" fill="#ff00ff" stroke="none"/><rect x="628.4" y="611.89" width="7.8" height="5.8" rx="2.9" fill="#ff00ff" stroke="none"/><rect x="683.2" y="573.52" width="7.8" height="5.8" rx="2.9" fill="#ff00ff" stroke="none"/><rect x="733.6" y="561.82" width="7.8" height="5.8" rx="2.9" fill="#ff00ff" stroke="none"/></g>
<path d="M524.18 741.4v-7.6 M524.18 446.2v7.6 M544.36 741.4v-14.3 M544.36 446.2v14.3 M564.54 741.4v-7.6 M564.54 446.2v7.6 M584.71 741.4v-7.6 M584.71 446.2v7.6 M604.89 741.4v-7.6 M604.89 446.2v7.6 M625.07 741.4v-14.3 M625.07 446.2v14.3 M645.25 741.4v-7.6 M645.25 446.2v7.6 M665.43 741.4v-7.6 M665.43 446.2v7.6 M685.61 741.4v-7.6 M685.61 446.2v7.6 M705.79 741.4v-14.3 M705.79 446.2v14.3 M725.96 741.4v-7.6 M725.96 446.2v7.6 M746.14 741.4v-7.6 M746.14 446.2v7.6 M766.32 741.4v-7.6 M766.32 446.2v7.6 M504 730.47h7.6 M786.5 730.47h-7.6 M504 719.53h7.6 M786.5 719.53h-7.6 M504 708.6h7.6 M786.5 708.6h-7.6 M504 697.67h7.6 M786.5 697.67h-7.6 M504 686.73h14.3 M786.5 686.73h-14.3 M504 675.8h7.6 M786.5 675.8h-7.6 M504 664.87h7.6 M786.5 664.87h-7.6 M504 653.93h7.6 M786.5 653.93h-7.6 M504 643h7.6 M786.5 643h-7.6 M504 632.07h14.3 M786.5 632.07h-14.3 M504 621.13h7.6 M786.5 621.13h-7.6 M504 610.2h7.6 M786.5 610.2h-7.6 M504 599.27h7.6 M786.5 599.27h-7.6 M504 588.33h7.6 M786.5 588.33h-7.6 M504 577.4h14.3 M786.5 577.4h-14.3 M504 566.47h7.6 M786.5 566.47h-7.6 M504 555.53h7.6 M786.5 555.53h-7.6 M504 544.6h7.6 M786.5 544.6h-7.6 M504 533.67h7.6 M786.5 533.67h-7.6 M504 522.73h14.3 M786.5 522.73h-14.3 M504 511.8h7.6 M786.5 511.8h-7.6 M504 500.87h7.6 M786.5 500.87h-7.6 M504 489.93h7.6 M786.5 489.93h-7.6 M504 479h7.6 M786.5 479h-7.6 M504 468.07h14.3 M786.5 468.07h-14.3 M504 457.13h7.6 M786.5 457.13h-7.6" stroke="#000" stroke-width="3.1" fill="none"/>
<rect x="504" y="446.2" width="282.5" height="295.2" fill="none" stroke="#000" stroke-width="3.3"/>
<g fill="none" stroke-width="3.3" stroke-linecap="butt" stroke-linejoin="round"><path transform="translate(544.36 767.4)" d="M-18 -14 L-24.67 -4.67 L-14.67 -4.67 M-18 -14 L-18 0 M-7.33 -14 L-9.33 -13.33 L-10.67 -11.33 L-11.33 -8 L-11.33 -6 L-10.67 -2.67 L-9.33 -0.67 L-7.33 0 L-6 0 L-4 -0.67 L-2.67 -2.67 L-2 -6 L-2 -8 L-2.67 -11.33 L-4 -13.33 L-6 -14 L-7.33 -14 M6 -14 L4 -13.33 L2.67 -11.33 L2 -8 L2 -6 L2.67 -2.67 L4 -0.67 L6 0 L7.33 0 L9.33 -0.67 L10.67 -2.67 L11.33 -6 L11.33 -8 L10.67 -11.33 L9.33 -13.33 L7.33 -14 L6 -14 M19.33 -14 L17.33 -13.33 L16 -11.33 L15.33 -8 L15.33 -6 L16 -2.67 L17.33 -0.67 L19.33 0 L20.67 0 L22.67 -0.67 L24 -2.67 L24.67 -6 L24.67 -8 L24 -11.33 L22.67 -13.33 L20.67 -14 L19.33 -14" stroke="#000"/><path transform="translate(625.07 767.4)" d="M-16 -12 L-16.67 -13.33 L-18.67 -14 L-20 -14 L-22 -13.33 L-23.33 -11.33 L-24 -8 L-24 -4.67 L-23.33 -2 L-22 -0.67 L-20 0 L-19.33 0 L-17.33 -0.67 L-16 -2 L-15.33 -4 L-15.33 -4.67 L-16 -6.67 L-17.33 -8 L-19.33 -8.67 L-20 -8.67 L-22 -8 L-23.33 -6.67 L-24 -4.67 M-7.33 -14 L-9.33 -13.33 L-10.67 -11.33 L-11.33 -8 L-11.33 -6 L-10.67 -2.67 L-9.33 -0.67 L-7.33 0 L-6 0 L-4 -0.67 L-2.67 -2.67 L-2 -6 L-2 -8 L-2.67 -11.33 L-4 -13.33 L-6 -14 L-7.33 -14 M6 -14 L4 -13.33 L2.67 -11.33 L2 -8 L2 -6 L2.67 -2.67 L4 -0.67 L6 0 L7.33 0 L9.33 -0.67 L10.67 -2.67 L11.33 -6 L11.33 -8 L10.67 -11.33 L9.33 -13.33 L7.33 -14 L6 -14 M19.33 -14 L17.33 -13.33 L16 -11.33 L15.33 -8 L15.33 -6 L16 -2.67 L17.33 -0.67 L19.33 0 L20.67 0 L22.67 -0.67 L24 -2.67 L24.67 -6 L24.67 -8 L24 -11.33 L22.67 -13.33 L20.67 -14 L19.33 -14" stroke="#000"/><path transform="translate(705.79 767.4)" d="M-21.33 -14 L-23.33 -13.33 L-24 -12 L-24 -10.67 L-23.33 -9.33 L-22 -8.67 L-19.33 -8 L-17.33 -7.33 L-16 -6 L-15.33 -4.67 L-15.33 -2.67 L-16 -1.33 L-16.67 -0.67 L-18.67 0 L-21.33 0 L-23.33 -0.67 L-24 -1.33 L-24.67 -2.67 L-24.67 -4.67 L-24 -6 L-22.67 -7.33 L-20.67 -8 L-18 -8.67 L-16.67 -9.33 L-16 -10.67 L-16 -12 L-16.67 -13.33 L-18.67 -14 L-21.33 -14 M-7.33 -14 L-9.33 -13.33 L-10.67 -11.33 L-11.33 -8 L-11.33 -6 L-10.67 -2.67 L-9.33 -0.67 L-7.33 0 L-6 0 L-4 -0.67 L-2.67 -2.67 L-2 -6 L-2 -8 L-2.67 -11.33 L-4 -13.33 L-6 -14 L-7.33 -14 M6 -14 L4 -13.33 L2.67 -11.33 L2 -8 L2 -6 L2.67 -2.67 L4 -0.67 L6 0 L7.33 0 L9.33 -0.67 L10.67 -2.67 L11.33 -6 L11.33 -8 L10.67 -11.33 L9.33 -13.33 L7.33 -14 L6 -14 M19.33 -14 L17.33 -13.33 L16 -11.33 L15.33 -8 L15.33 -6 L16 -2.67 L17.33 -0.67 L19.33 0 L20.67 0 L22.67 -0.67 L24 -2.67 L24.67 -6 L24.67 -8 L24 -11.33 L22.67 -13.33 L20.67 -14 L19.33 -14" stroke="#000"/><path transform="translate(786.5 767.4)" d="M-29.33 -11.33 L-28 -12 L-26 -14 L-26 0 M-14 -14 L-16 -13.33 L-17.33 -11.33 L-18 -8 L-18 -6 L-17.33 -2.67 L-16 -0.67 L-14 0 L-12.67 0 L-10.67 -0.67 L-9.33 -2.67 L-8.67 -6 L-8.67 -8 L-9.33 -11.33 L-10.67 -13.33 L-12.67 -14 L-14 -14 M-0.67 -14 L-2.67 -13.33 L-4 -11.33 L-4.67 -8 L-4.67 -6 L-4 -2.67 L-2.67 -0.67 L-0.67 0 L0.67 0 L2.67 -0.67 L4 -2.67 L4.67 -6 L4.67 -8 L4 -11.33 L2.67 -13.33 L0.67 -14 L-0.67 -14 M12.67 -14 L10.67 -13.33 L9.33 -11.33 L8.67 -8 L8.67 -6 L9.33 -2.67 L10.67 -0.67 L12.67 0 L14 0 L16 -0.67 L17.33 -2.67 L18 -6 L18 -8 L17.33 -11.33 L16 -13.33 L14 -14 L12.67 -14 M26 -14 L24 -13.33 L22.67 -11.33 L22 -8 L22 -6 L22.67 -2.67 L24 -0.67 L26 0 L27.33 0 L29.33 -0.67 L30.67 -2.67 L31.33 -6 L31.33 -8 L30.67 -11.33 L29.33 -13.33 L27.33 -14 L26 -14" stroke="#000"/><path transform="translate(492 748.45)" d="M-7.33 -14 L-9.33 -13.33 L-10.67 -11.33 L-11.33 -8 L-11.33 -6 L-10.67 -2.67 L-9.33 -0.67 L-7.33 0 L-6 0 L-4 -0.67 L-2.67 -2.67 L-2 -6 L-2 -8 L-2.67 -11.33 L-4 -13.33 L-6 -14 L-7.33 -14" stroke="#000"/><path transform="translate(492 693.78)" d="M-27.33 -14 L-29.33 -13.33 L-30.67 -11.33 L-31.33 -8 L-31.33 -6 L-30.67 -2.67 L-29.33 -0.67 L-27.33 0 L-26 0 L-24 -0.67 L-22.67 -2.67 L-22 -6 L-22 -8 L-22.67 -11.33 L-24 -13.33 L-26 -14 L-27.33 -14 M-16.67 -1.33 L-17.33 -0.67 L-16.67 0 L-16 -0.67 L-16.67 -1.33 M-3.33 -14 L-10 -14 L-10.67 -8 L-10 -8.67 L-8 -9.33 L-6 -9.33 L-4 -8.67 L-2.67 -7.33 L-2 -5.33 L-2 -4 L-2.67 -2 L-4 -0.67 L-6 0 L-8 0 L-10 -0.67 L-10.67 -1.33 L-11.33 -2.67" stroke="#000"/><path transform="translate(492 639.12)" d="M-9.33 -11.33 L-8 -12 L-6 -14 L-6 0" stroke="#000"/><path transform="translate(492 584.45)" d="M-29.33 -11.33 L-28 -12 L-26 -14 L-26 0 M-16.67 -1.33 L-17.33 -0.67 L-16.67 0 L-16 -0.67 L-16.67 -1.33 M-3.33 -14 L-10 -14 L-10.67 -8 L-10 -8.67 L-8 -9.33 L-6 -9.33 L-4 -8.67 L-2.67 -7.33 L-2 -5.33 L-2 -4 L-2.67 -2 L-4 -0.67 L-6 0 L-8 0 L-10 -0.67 L-10.67 -1.33 L-11.33 -2.67" stroke="#000"/><path transform="translate(492 529.78)" d="M-10.67 -10.67 L-10.67 -11.33 L-10 -12.67 L-9.33 -13.33 L-8 -14 L-5.33 -14 L-4 -13.33 L-3.33 -12.67 L-2.67 -11.33 L-2.67 -10 L-3.33 -8.67 L-4.67 -6.67 L-11.33 0 L-2 0" stroke="#000"/><path transform="translate(492 475.12)" d="M-30.67 -10.67 L-30.67 -11.33 L-30 -12.67 L-29.33 -13.33 L-28 -14 L-25.33 -14 L-24 -13.33 L-23.33 -12.67 L-22.67 -11.33 L-22.67 -10 L-23.33 -8.67 L-24.67 -6.67 L-31.33 0 L-22 0 M-16.67 -1.33 L-17.33 -0.67 L-16.67 0 L-16 -0.67 L-16.67 -1.33 M-3.33 -14 L-10 -14 L-10.67 -8 L-10 -8.67 L-8 -9.33 L-6 -9.33 L-4 -8.67 L-2.67 -7.33 L-2 -5.33 L-2 -4 L-2.67 -2 L-4 -0.67 L-6 0 L-8 0 L-10 -0.67 L-10.67 -1.33 L-11.33 -2.67" stroke="#000"/><path transform="translate(645.65 798.6)" d="M-124.67 -9.33 L-126.01 -8.67 L-127.34 -7.33 L-128.01 -5.33 L-128.01 -4 L-127.34 -2 L-126.01 -0.67 L-124.67 0 L-122.67 0 L-121.34 -0.67 L-120.01 -2 L-119.34 -4 L-119.34 -5.33 L-120.01 -7.33 L-121.34 -8.67 L-122.67 -9.33 L-124.67 -9.33 M-114.67 -14 L-114.67 0 M-114.67 -7.33 L-113.34 -8.67 L-112.01 -9.33 L-110.01 -9.33 L-108.67 -8.67 L-107.34 -7.33 L-106.67 -5.33 L-106.67 -4 L-107.34 -2 L-108.67 -0.67 L-110.01 0 L-112.01 0 L-113.34 -0.67 L-114.67 -2 M-95.34 -7.33 L-96 -8.67 L-98 -9.33 L-100 -9.33 L-102.01 -8.67 L-102.67 -7.33 L-102.01 -6 L-100.67 -5.33 L-97.34 -4.67 L-96 -4 L-95.34 -2.67 L-95.34 -2 L-96 -0.67 L-98 0 L-100 0 L-102.01 -0.67 L-102.67 -2 M-91.34 -5.33 L-83.34 -5.33 L-83.34 -6.67 L-84 -8 L-84.67 -8.67 L-86 -9.33 L-88 -9.33 L-89.34 -8.67 L-90.67 -7.33 L-91.34 -5.33 L-91.34 -4 L-90.67 -2 L-89.34 -0.67 L-88 0 L-86 0 L-84.67 -0.67 L-83.34 -2 M-78.67 -9.33 L-78.67 0 M-78.67 -5.33 L-78 -7.33 L-76.67 -8.67 L-75.34 -9.33 L-73.34 -9.33 M-71.34 -9.33 L-67.34 0 M-63.34 -9.33 L-67.34 0 M-60 -5.33 L-52 -5.33 L-52 -6.67 L-52.67 -8 L-53.34 -8.67 L-54.67 -9.33 L-56.67 -9.33 L-58 -8.67 L-59.34 -7.33 L-60 -5.33 L-60 -4 L-59.34 -2 L-58 -0.67 L-56.67 0 L-54.67 0 L-53.34 -0.67 L-52 -2 M-40 -14 L-40 0 M-40 -7.33 L-41.34 -8.67 L-42.67 -9.33 L-44.67 -9.33 L-46 -8.67 L-47.34 -7.33 L-48 -5.33 L-48 -4 L-47.34 -2 L-46 -0.67 L-44.67 0 L-42.67 0 L-41.34 -0.67 L-40 -2 M-24.67 -9.33 L-22 0 M-19.33 -9.33 L-22 0 M-19.33 -9.33 L-16.67 0 M-14 -9.33 L-16.67 0 M-2 -9.33 L-2 0 M-2 -7.33 L-3.33 -8.67 L-4.67 -9.33 L-6.67 -9.33 L-8 -8.67 L-9.33 -7.33 L-10 -5.33 L-10 -4 L-9.33 -2 L-8 -0.67 L-6.67 0 L-4.67 0 L-3.33 -0.67 L-2 -2 M2 -9.33 L6 0 M10 -9.33 L6 0 M13.33 -5.33 L21.33 -5.33 L21.33 -6.67 L20.67 -8 L20 -8.67 L18.67 -9.33 L16.67 -9.33 L15.33 -8.67 L14 -7.33 L13.33 -5.33 L13.33 -4 L14 -2 L15.33 -0.67 L16.67 0 L18.67 0 L20 -0.67 L21.33 -2 M26 -14 L26 0 M30.67 -5.33 L38.67 -5.33 L38.67 -6.67 L38 -8 L37.34 -8.67 L36 -9.33 L34 -9.33 L32.67 -8.67 L31.33 -7.33 L30.67 -5.33 L30.67 -4 L31.33 -2 L32.67 -0.67 L34 0 L36 0 L37.34 -0.67 L38.67 -2 M43.34 -9.33 L43.34 0 M43.34 -6.67 L45.34 -8.67 L46.67 -9.33 L48.67 -9.33 L50 -8.67 L50.67 -6.67 L50.67 0 M63.34 -9.33 L63.34 1.33 L62.67 3.33 L62 4 L60.67 4.67 L58.67 4.67 L57.34 4 M63.34 -7.33 L62 -8.67 L60.67 -9.33 L58.67 -9.33 L57.34 -8.67 L56 -7.33 L55.34 -5.33 L55.34 -4 L56 -2 L57.34 -0.67 L58.67 0 L60.67 0 L62 -0.67 L63.34 -2 M69.34 -14 L69.34 -2.67 L70 -0.67 L71.34 0 L72.67 0 M67.34 -9.33 L72 -9.33 M76.67 -14 L76.67 0 M76.67 -6.67 L78.67 -8.67 L80 -9.33 L82 -9.33 L83.34 -8.67 L84 -6.67 L84 0 M104.67 -16.67 L103.34 -15.33 L102.01 -13.33 L100.67 -10.67 L100 -7.33 L100 -4.67 L100.67 -1.33 L102.01 1.33 L103.34 3.33 L104.67 4.67 M113.87 -14 L108.54 0 M113.87 -14 L119.21 0 M110.54 -4.67 L117.21 -4.67 M113.87 -14.13 L112.81 -14.42 L112.02 -15.2 L111.74 -16.27 L112.02 -17.33 L112.81 -18.12 L113.87 -18.4 L114.94 -18.12 L115.72 -17.33 L116.01 -16.27 L115.72 -15.2 L114.94 -14.42 L113.87 -14.13 M122.67 -16.67 L124.01 -15.33 L125.34 -13.33 L126.67 -10.67 L127.34 -7.33 L127.34 -4.67 L126.67 -1.33 L125.34 1.33 L124.01 3.33 L122.67 4.67" stroke="#000"/><path transform="translate(442.2 593.6) rotate(-90)" d="M-90 -9.8 L-90 0 M-90 -5.6 L-89.34 -7.7 L-88 -9.1 L-86.67 -9.8 L-84.67 -9.8 M-82 -5.6 L-74 -5.6 L-74 -7 L-74.67 -8.4 L-75.34 -9.1 L-76.67 -9.8 L-78.67 -9.8 L-80 -9.1 L-81.34 -7.7 L-82 -5.6 L-82 -4.2 L-81.34 -2.1 L-80 -0.7 L-78.67 0 L-76.67 0 L-75.34 -0.7 L-74 -2.1 M-69.34 -14.7 L-69.34 0 M-56.67 -9.8 L-56.67 0 M-56.67 -7.7 L-58 -9.1 L-59.34 -9.8 L-61.34 -9.8 L-62.67 -9.1 L-64 -7.7 L-64.67 -5.6 L-64.67 -4.2 L-64 -2.1 L-62.67 -0.7 L-61.34 0 L-59.34 0 L-58 -0.7 L-56.67 -2.1 M-50.67 -14.7 L-50.67 -2.8 L-50 -0.7 L-48.67 0 L-47.34 0 M-52.67 -9.8 L-48 -9.8 M-44 -14.7 L-43.34 -14 L-42.67 -14.7 L-43.34 -15.4 L-44 -14.7 M-43.34 -9.8 L-43.34 0 M-39.34 -9.8 L-35.34 0 M-31.33 -9.8 L-35.34 0 M-28 -5.6 L-20 -5.6 L-20 -7 L-20.67 -8.4 L-21.33 -9.1 L-22.67 -9.8 L-24.67 -9.8 L-26 -9.1 L-27.33 -7.7 L-28 -5.6 L-28 -4.2 L-27.33 -2.1 L-26 -0.7 L-24.67 0 L-22.67 0 L-21.33 -0.7 L-20 -2.1 M-0.67 -14.7 L-2 -14.7 L-3.33 -14 L-4 -11.9 L-4 0 M-6 -9.8 L-1.33 -9.8 M8 -17.5 L6.67 -16.1 L5.33 -14 L4 -11.2 L3.33 -7.7 L3.33 -4.9 L4 -1.4 L5.33 1.4 L6.67 3.5 L8 4.9 M12.67 -9.8 L12.67 0 M12.67 -7 L14.67 -9.1 L16 -9.8 L18 -9.8 L19.33 -9.1 L20 -7 L20 0 M25.33 -9.8 L25.33 -2.8 L26 -0.7 L27.33 0 L29.33 0 L30.67 -0.7 L32.67 -2.8 M32.67 -9.8 L32.67 0 M37.34 -17.5 L38.67 -16.1 L40 -14 L41.34 -11.2 L42 -7.7 L42 -4.9 L41.34 -1.4 L40 1.4 L38.67 3.5 L37.34 4.9 M62 -14.7 L60.67 -14.7 L59.34 -14 L58.67 -11.9 L58.67 0 M56.67 -9.8 L61.34 -9.8 M66 -14.7 L66 0 M71.34 -9.8 L71.34 -2.8 L72 -0.7 L73.34 0 L75.34 0 L76.67 -0.7 L78.67 -2.8 M78.67 -9.8 L78.67 0 M83.34 -9.8 L90.67 0 M90.67 -9.8 L83.34 0" stroke="#000"/><path transform="translate(544.36 522.73)" d="M10 -9.33 L10 0 M10 -7.33 L8.67 -8.67 L7.33 -9.33 L5.33 -9.33 L4 -8.67 L2.67 -7.33 L2 -5.33 L2 -4 L2.67 -2 L4 -0.67 L5.33 0 L7.33 0 L8.67 -0.67 L10 -2 M15.33 -9.33 L15.33 0 M15.33 -6.67 L17.33 -8.67 L18.67 -9.33 L20.67 -9.33 L22 -8.67 L22.67 -6.67 L22.67 0 M28 -9.33 L28 0 M28 -6.67 L30 -8.67 L31.33 -9.33 L33.33 -9.33 L34.67 -8.67 L35.34 -6.67 L35.34 0 M40.67 -9.33 L40.67 -2.67 L41.34 -0.67 L42.67 0 L44.67 0 L46 -0.67 L48 -2.67 M48 -9.33 L48 0 M53.34 -14 L53.34 0 M58.67 -9.33 L58.67 -2.67 L59.34 -0.67 L60.67 0 L62.67 0 L64 -0.67 L66 -2.67 M66 -9.33 L66 0 M78 -7.33 L77.34 -8.67 L75.34 -9.33 L73.34 -9.33 L71.34 -8.67 L70.67 -7.33 L71.34 -6 L72.67 -5.33 L76 -4.67 L77.34 -4 L78 -2.67 L78 -2 L77.34 -0.67 L75.34 0 L73.34 0 L71.34 -0.67 L70.67 -2 M98 -16.67 L96.67 -15.33 L95.34 -13.33 L94 -10.67 L93.34 -7.33 L93.34 -4.67 L94 -1.33 L95.34 1.33 L96.67 3.33 L98 4.67 M109.34 -7.33 L108.67 -8.67 L106.67 -9.33 L104.67 -9.33 L102.67 -8.67 L102.01 -7.33 L102.67 -6 L104.01 -5.33 L107.34 -4.67 L108.67 -4 L109.34 -2.67 L109.34 -2 L108.67 -0.67 L106.67 0 L104.67 0 L102.67 -0.67 L102.01 -2 M116.67 -9.33 L115.34 -8.67 L114.01 -7.33 L113.34 -5.33 L113.34 -4 L114.01 -2 L115.34 -0.67 L116.67 0 L118.67 0 L120.01 -0.67 L121.34 -2 L122.01 -4 L122.01 -5.33 L121.34 -7.33 L120.01 -8.67 L118.67 -9.33 L116.67 -9.33 M126.67 -14 L126.67 0 M131.34 -14 L132.01 -13.33 L132.67 -14 L132.01 -14.67 L131.34 -14 M132.01 -9.33 L132.01 0 M144.67 -14 L144.67 0 M144.67 -7.33 L143.34 -8.67 L142.01 -9.33 L140.01 -9.33 L138.67 -8.67 L137.34 -7.33 L136.67 -5.33 L136.67 -4 L137.34 -2 L138.67 -0.67 L140.01 0 L142.01 0 L143.34 -0.67 L144.67 -2 M149.34 -16.67 L150.67 -15.33 L152.01 -13.33 L153.34 -10.67 L154.01 -7.33 L154.01 -4.67 L153.34 -1.33 L152.01 1.33 L150.67 3.33 L149.34 4.67" stroke="#000000"/><path transform="translate(544.36 555.53)" d="M6.67 -14 L5.33 -14 L4 -13.33 L3.33 -11.33 L3.33 0 M1.33 -9.33 L6 -9.33 M10 -14 L10.67 -13.33 L11.33 -14 L10.67 -14.67 L10 -14 M10.67 -9.33 L10.67 0 M16.67 -14 L16.67 -2.67 L17.33 -0.67 L18.67 0 L20 0 M14.67 -9.33 L19.33 -9.33 M39.34 -16.67 L38 -15.33 L36.67 -13.33 L35.34 -10.67 L34.67 -7.33 L34.67 -4.67 L35.34 -1.33 L36.67 1.33 L38 3.33 L39.34 4.67 M51.34 -14 L51.34 0 M51.34 -7.33 L50 -8.67 L48.67 -9.33 L46.67 -9.33 L45.34 -8.67 L44 -7.33 L43.34 -5.33 L43.34 -4 L44 -2 L45.34 -0.67 L46.67 0 L48.67 0 L50 -0.67 L51.34 -2 M64 -9.33 L64 0 M64 -7.33 L62.67 -8.67 L61.34 -9.33 L59.34 -9.33 L58 -8.67 L56.67 -7.33 L56 -5.33 L56 -4 L56.67 -2 L58 -0.67 L59.34 0 L61.34 0 L62.67 -0.67 L64 -2 M76 -7.33 L75.34 -8.67 L73.34 -9.33 L71.34 -9.33 L69.34 -8.67 L68.67 -7.33 L69.34 -6 L70.67 -5.33 L74 -4.67 L75.34 -4 L76 -2.67 L76 -2 L75.34 -0.67 L73.34 0 L71.34 0 L69.34 -0.67 L68.67 -2 M80.67 -14 L80.67 0 M80.67 -6.67 L82.67 -8.67 L84 -9.33 L86 -9.33 L87.34 -8.67 L88 -6.67 L88 0 M92.67 -5.33 L100.67 -5.33 L100.67 -6.67 L100 -8 L99.34 -8.67 L98 -9.33 L96 -9.33 L94.67 -8.67 L93.34 -7.33 L92.67 -5.33 L92.67 -4 L93.34 -2 L94.67 -0.67 L96 0 L98 0 L99.34 -0.67 L100.67 -2 M112.67 -14 L112.67 0 M112.67 -7.33 L111.34 -8.67 L110.01 -9.33 L108.01 -9.33 L106.67 -8.67 L105.34 -7.33 L104.67 -5.33 L104.67 -4 L105.34 -2 L106.67 -0.67 L108.01 0 L110.01 0 L111.34 -0.67 L112.67 -2 M117.34 -16.67 L118.67 -15.33 L120.01 -13.33 L121.34 -10.67 L122.01 -7.33 L122.01 -4.67 L121.34 -1.33 L120.01 1.33 L118.67 3.33 L117.34 4.67" stroke="#ff00ff"/><path transform="translate(625.07 653.93)" d="M10 -9.33 L10 0 M10 -7.33 L8.67 -8.67 L7.33 -9.33 L5.33 -9.33 L4 -8.67 L2.67 -7.33 L2 -5.33 L2 -4 L2.67 -2 L4 -0.67 L5.33 0 L7.33 0 L8.67 -0.67 L10 -2 M15.33 -9.33 L15.33 0 M15.33 -6.67 L17.33 -8.67 L18.67 -9.33 L20.67 -9.33 L22 -8.67 L22.67 -6.67 L22.67 0 M28 -9.33 L28 0 M28 -6.67 L30 -8.67 L31.33 -9.33 L33.33 -9.33 L34.67 -8.67 L35.34 -6.67 L35.34 0 M40.67 -9.33 L40.67 -2.67 L41.34 -0.67 L42.67 0 L44.67 0 L46 -0.67 L48 -2.67 M48 -9.33 L48 0 M53.34 -14 L53.34 0 M58.67 -9.33 L58.67 -2.67 L59.34 -0.67 L60.67 0 L62.67 0 L64 -0.67 L66 -2.67 M66 -9.33 L66 0 M78 -7.33 L77.34 -8.67 L75.34 -9.33 L73.34 -9.33 L71.34 -8.67 L70.67 -7.33 L71.34 -6 L72.67 -5.33 L76 -4.67 L77.34 -4 L78 -2.67 L78 -2 L77.34 -0.67 L75.34 0 L73.34 0 L71.34 -0.67 L70.67 -2 M100.67 -14 L100.67 0 M100.67 -7.33 L99.34 -8.67 L98 -9.33 L96 -9.33 L94.67 -8.67 L93.34 -7.33 L92.67 -5.33 L92.67 -4 L93.34 -2 L94.67 -0.67 L96 0 L98 0 L99.34 -0.67 L100.67 -2 M105.34 -5.33 L113.34 -5.33 L113.34 -6.67 L112.67 -8 L112.01 -8.67 L110.67 -9.33 L108.67 -9.33 L107.34 -8.67 L106.01 -7.33 L105.34 -5.33 L105.34 -4 L106.01 -2 L107.34 -0.67 L108.67 0 L110.67 0 L112.01 -0.67 L113.34 -2 M125.34 -7.33 L124.01 -8.67 L122.67 -9.33 L120.67 -9.33 L119.34 -8.67 L118.01 -7.33 L117.34 -5.33 L117.34 -4 L118.01 -2 L119.34 -0.67 L120.67 0 L122.67 0 L124.01 -0.67 L125.34 -2 M132.67 -9.33 L131.34 -8.67 L130.01 -7.33 L129.34 -5.33 L129.34 -4 L130.01 -2 L131.34 -0.67 L132.67 0 L134.67 0 L136.01 -0.67 L137.34 -2 L138.01 -4 L138.01 -5.33 L137.34 -7.33 L136.01 -8.67 L134.67 -9.33 L132.67 -9.33 M142.67 -9.33 L142.67 0 M142.67 -6.67 L144.67 -8.67 L146.01 -9.33 L148.01 -9.33 L149.34 -8.67 L150.01 -6.67 L150.01 0" stroke="#0000ff"/><path transform="translate(665.43 697.67)" d="M2.67 -14 L2.67 0 M2.67 -14 L11.33 -14 M2.67 -7.33 L8 -7.33 M2.67 0 L11.33 0" stroke="#ff0000"/></g>
</svg>
</body></html>
